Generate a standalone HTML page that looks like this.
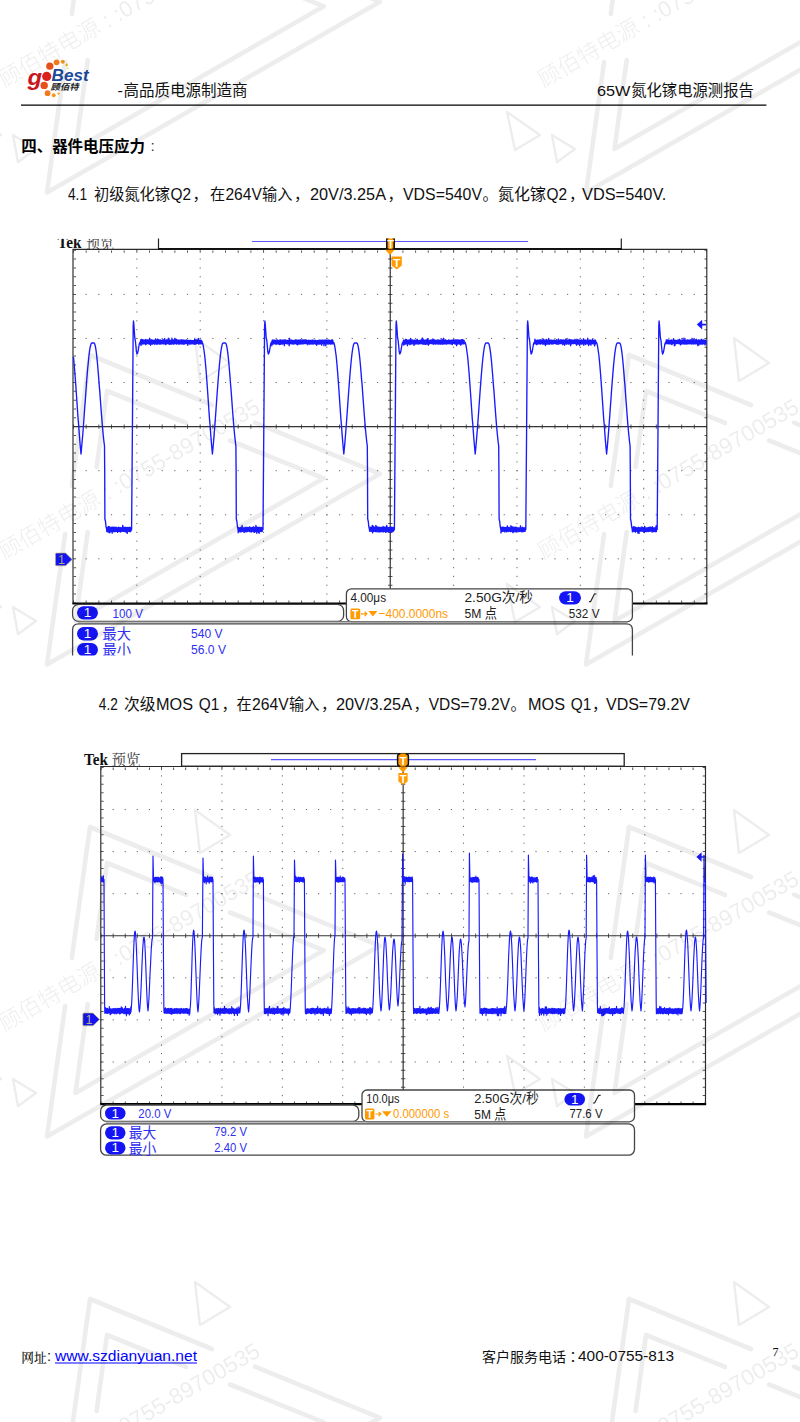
<!DOCTYPE html>
<html lang="zh-CN">
<head>
<meta charset="utf-8">
<title>65W氮化镓电源测报告 - 器件电压应力</title>
<style>
html,body{margin:0;padding:0;background:#fff}
body{width:800px;height:1422px;position:relative;overflow:hidden}
svg{position:absolute;left:0;top:0;display:block}
</style>
</head>
<body>
<svg width="800" height="1422" viewBox="0 0 800 1422" font-family='"Liberation Sans","Noto Sans CJK SC",sans-serif'>
<g id="logo">
<circle cx="46.7" cy="76.4" r="4.6" fill="#d9231c"/><circle cx="49.8" cy="66.2" r="3.6" fill="#e8501a"/><circle cx="56.6" cy="62.3" r="2.9" fill="#f07a1c"/><circle cx="62.7" cy="61.7" r="2.0" fill="#f59a1e"/><circle cx="66.7" cy="64.9" r="1.3" fill="#f7b52a"/><circle cx="67.8" cy="68.3" r="0.8" fill="#f7c23a"/><circle cx="44.2" cy="85.4" r="3.7" fill="#e8501a"/><circle cx="47.6" cy="93.2" r="2.9" fill="#f07a1c"/><circle cx="53.7" cy="95.3" r="2.0" fill="#f59a1e"/><circle cx="58.5" cy="93.6" r="1.2" fill="#f7b52a"/><text x="27.6" y="84.6" font-size="22.5" font-weight="bold" font-style="italic" fill="#c8161d" textLength="14.5" lengthAdjust="spacingAndGlyphs">g</text><text x="51.6" y="81.4" font-size="17.4" font-weight="bold" font-style="italic" fill="#1b4a9c" textLength="37" lengthAdjust="spacingAndGlyphs">Best</text><text x="50.6" y="90.2" font-size="8.6" font-weight="bold" font-style="italic" fill="#1a1a1a" textLength="28" lengthAdjust="spacingAndGlyphs">顾佰特</text>
</g>
<g id="doc-text">
<text x="117.6" y="95.6" font-size="15.5" fill="#111" textLength="5.4" lengthAdjust="spacingAndGlyphs">-</text>
<text x="123.6" y="95.6" font-size="15.5" fill="#111" textLength="124.0" lengthAdjust="spacingAndGlyphs">高品质电源制造商</text>
<text x="597.0" y="95.6" font-size="15.5" fill="#111" textLength="33.4" lengthAdjust="spacingAndGlyphs">65W</text>
<text x="631.2" y="95.6" font-size="15.5" fill="#111" textLength="122.6" lengthAdjust="spacingAndGlyphs">氮化镓电源测报告</text>
<line x1="21" y1="105.1" x2="766.4" y2="105.1" stroke="#000" stroke-width="1.3"/>
<text x="21.2" y="152.0" font-size="15.5" fill="#000" textLength="123.8" lengthAdjust="spacingAndGlyphs" font-weight="bold">四、器件电压应力</text>
<text x="150.4" y="151.4" font-size="15.5" fill="#333">:</text>
<text x="68.0" y="200.2" font-size="16.2" fill="#111" textLength="19.0" lengthAdjust="spacingAndGlyphs">4.1</text>
<text x="94.0" y="200.0" font-size="15.4" fill="#111" textLength="76.0" lengthAdjust="spacingAndGlyphs">初级氮化镓</text>
<text x="170.4" y="200.2" font-size="16.2" fill="#111" textLength="20.6" lengthAdjust="spacingAndGlyphs">Q2</text>
<text x="192.6" y="200.0" font-size="15.4" fill="#111">，</text>
<text x="210.0" y="200.0" font-size="15.4" fill="#111" textLength="15.2" lengthAdjust="spacingAndGlyphs">在</text>
<text x="225.4" y="200.2" font-size="16.2" fill="#111" textLength="36.4" lengthAdjust="spacingAndGlyphs">264V</text>
<text x="262.0" y="200.0" font-size="15.4" fill="#111" textLength="30.4" lengthAdjust="spacingAndGlyphs">输入</text>
<text x="294.0" y="200.0" font-size="15.4" fill="#111">，</text>
<text x="310.0" y="200.2" font-size="16.2" fill="#111" textLength="76.0" lengthAdjust="spacingAndGlyphs">20V/3.25A</text>
<text x="387.6" y="200.0" font-size="15.4" fill="#111">，</text>
<text x="403.0" y="200.2" font-size="16.2" fill="#111" textLength="79.0" lengthAdjust="spacingAndGlyphs">VDS=540V</text>
<text x="482.6" y="200.0" font-size="15.4" fill="#111">。</text>
<text x="498.0" y="200.0" font-size="15.4" fill="#111" textLength="48.0" lengthAdjust="spacingAndGlyphs">氮化镓</text>
<text x="546.4" y="200.2" font-size="16.2" fill="#111" textLength="20.6" lengthAdjust="spacingAndGlyphs">Q2</text>
<text x="569.0" y="200.0" font-size="15.4" fill="#111">，</text>
<text x="582.0" y="200.2" font-size="16.2" fill="#111" textLength="84.4" lengthAdjust="spacingAndGlyphs">VDS=540V.</text>
<text x="98.8" y="709.8" font-size="16.2" fill="#111" textLength="19.0" lengthAdjust="spacingAndGlyphs">4.2</text>
<text x="124.0" y="709.6" font-size="15.4" fill="#111" textLength="31.6" lengthAdjust="spacingAndGlyphs">次级</text>
<text x="156.0" y="709.8" font-size="16.2" fill="#111" textLength="37.0" lengthAdjust="spacingAndGlyphs">MOS</text>
<text x="198.8" y="709.8" font-size="16.2" fill="#111" textLength="20.6" lengthAdjust="spacingAndGlyphs">Q1</text>
<text x="221.4" y="709.6" font-size="15.4" fill="#111">，</text>
<text x="236.4" y="709.6" font-size="15.4" fill="#111" textLength="15.2" lengthAdjust="spacingAndGlyphs">在</text>
<text x="252.0" y="709.8" font-size="16.2" fill="#111" textLength="36.6" lengthAdjust="spacingAndGlyphs">264V</text>
<text x="289.0" y="709.6" font-size="15.4" fill="#111" textLength="30.4" lengthAdjust="spacingAndGlyphs">输入</text>
<text x="321.0" y="709.6" font-size="15.4" fill="#111">，</text>
<text x="336.0" y="709.8" font-size="16.2" fill="#111" textLength="76.0" lengthAdjust="spacingAndGlyphs">20V/3.25A</text>
<text x="413.4" y="709.6" font-size="15.4" fill="#111">，</text>
<text x="428.8" y="709.8" font-size="16.2" fill="#111" textLength="81.2" lengthAdjust="spacingAndGlyphs">VDS=79.2V</text>
<text x="510.6" y="709.6" font-size="15.4" fill="#111">。</text>
<text x="528.0" y="709.8" font-size="16.2" fill="#111" textLength="37.0" lengthAdjust="spacingAndGlyphs">MOS</text>
<text x="570.8" y="709.8" font-size="16.2" fill="#111" textLength="20.6" lengthAdjust="spacingAndGlyphs">Q1</text>
<text x="592.0" y="709.6" font-size="15.4" fill="#111">，</text>
<text x="606.0" y="709.8" font-size="16.2" fill="#111" textLength="84.0" lengthAdjust="spacingAndGlyphs">VDS=79.2V</text>
<text x="21.2" y="1361.6" font-size="12.8" fill="#111" textLength="25.4" lengthAdjust="spacingAndGlyphs" font-family='"Noto Serif CJK SC","Noto Sans CJK SC",serif' font-weight="500">网址</text>
<text x="47.0" y="1361.4" font-size="14.5" fill="#111">:</text>
<text x="55.0" y="1361.3" font-size="15.5" fill="#0000ff" textLength="142.0" lengthAdjust="spacingAndGlyphs">www.szdianyuan.net</text>
<line x1="55" y1="1363" x2="197" y2="1363" stroke="#0000ff" stroke-width="1.1"/>
<text x="482.0" y="1361.6" font-size="14.0" fill="#111" textLength="84.0" lengthAdjust="spacingAndGlyphs">客户服务电话</text>
<text x="569.6" y="1361.2" font-size="14.0" fill="#111">：</text>
<text x="578.0" y="1361.3" font-size="15.5" fill="#111" textLength="96.0" lengthAdjust="spacingAndGlyphs">400-0755-813</text>
<text x="772.6" y="1355.8" font-size="12.0" fill="#111" font-family='"Liberation Serif",serif'>7</text>
</g>
<g id="scope1" font-size="12.5">
<clipPath id="cs1"><rect x="40" y="238.6" width="700" height="416.8"/></clipPath><g clip-path="url(#cs1)"><g stroke="#666" stroke-width="1" fill="none"><line x1="136.85" y1="249.70" x2="136.85" y2="602.90" stroke-dasharray="1.2 7.615"/><line x1="200.20" y1="249.70" x2="200.20" y2="602.90" stroke-dasharray="1.2 7.615"/><line x1="263.55" y1="249.70" x2="263.55" y2="602.90" stroke-dasharray="1.2 7.615"/><line x1="326.90" y1="249.70" x2="326.90" y2="602.90" stroke-dasharray="1.2 7.615"/><line x1="453.60" y1="249.70" x2="453.60" y2="602.90" stroke-dasharray="1.2 7.615"/><line x1="516.95" y1="249.70" x2="516.95" y2="602.90" stroke-dasharray="1.2 7.615"/><line x1="580.30" y1="249.70" x2="580.30" y2="602.90" stroke-dasharray="1.2 7.615"/><line x1="643.65" y1="249.70" x2="643.65" y2="602.90" stroke-dasharray="1.2 7.615"/><line x1="72.90" y1="294.38" x2="707.00" y2="294.38" stroke-dasharray="1.2 11.470"/><line x1="72.90" y1="338.45" x2="707.00" y2="338.45" stroke-dasharray="1.2 11.470"/><line x1="72.90" y1="382.52" x2="707.00" y2="382.52" stroke-dasharray="1.2 11.470"/><line x1="72.90" y1="470.67" x2="707.00" y2="470.67" stroke-dasharray="1.2 11.470"/><line x1="72.90" y1="514.75" x2="707.00" y2="514.75" stroke-dasharray="1.2 11.470"/><line x1="72.90" y1="558.83" x2="707.00" y2="558.83" stroke-dasharray="1.2 11.470"/></g><g stroke="#555" fill="none"><line x1="74.80" y1="249.80" x2="74.80" y2="602.90" stroke-width="2.4" stroke-dasharray="1 7.815"/><line x1="705.70" y1="249.80" x2="705.70" y2="602.90" stroke-width="2.4" stroke-dasharray="1 7.815"/><line x1="73.00" y1="251.60" x2="707.00" y2="251.60" stroke-width="2.4" stroke-dasharray="1 11.670"/><line x1="73.00" y1="601.60" x2="707.00" y2="601.60" stroke-width="2.4" stroke-dasharray="1 11.670"/><line x1="390.25" y1="249.80" x2="390.25" y2="602.90" stroke-width="4.4" stroke-dasharray="1 7.815"/><line x1="73.00" y1="426.60" x2="707.00" y2="426.60" stroke-width="4.4" stroke-dasharray="1 11.670"/></g><g stroke="#333" stroke-width="1.2"><line x1="390.25" y1="250.30" x2="390.25" y2="602.90"/><line x1="73.50" y1="426.60" x2="707.00" y2="426.60"/></g><path d="M73.00 603.50 V249.30 H706.80 V603.50" fill="none" stroke="#2a2a2a" stroke-width="1.15"/><line x1="72.40" y1="603.50" x2="707.50" y2="603.50" stroke="#000" stroke-width="2.2"/>
<path d="M158.5 238 V249 M621.3 238 V249" stroke="#222" stroke-width="1.2" fill="none"/>
<line x1="158" y1="248.8" x2="622" y2="248.8" stroke="#111" stroke-width="1.8"/>
<line x1="252" y1="241.5" x2="528" y2="241.5" stroke="#5a5aff" stroke-width="1.2"/>
<rect x="386.4" y="238" width="8.2" height="11" fill="#ff9a00"/>
<path d="M388.6 238 H386.8 V249 H388.6 M392.4 238 H394.2 V249 H392.4" stroke="#111" stroke-width="1.6" fill="none"/>
<text x="390.5" y="248" font-size="11" font-weight="bold" fill="#fff" text-anchor="middle">T</text>
<path d="M385.2 249.8 H394.8 L390 255 Z" fill="#ff9a00"/>
<path d="M391.6 256.4 H401.8 V265.6 L396.7 269.4 L391.6 265.6 Z" fill="#ff9a00"/>
<text x="396.7" y="266.6" font-size="11.5" font-weight="bold" fill="#fff" text-anchor="middle">T</text>
<polyline fill="none" stroke="#1a1aff" stroke-width="1.35" stroke-linejoin="round" points="73.4,356.9 73.7,359.4 74.1,363.7 74.5,368.4 74.9,373.3 75.3,378.6 75.7,384.1 76.1,389.7 76.5,395.5 76.9,401.4 77.3,407.2 77.7,413.1 78.1,418.9 78.6,424.5 79.0,430.0 79.4,435.4 79.8,440.4 80.2,445.2 80.6,449.8 81.0,454.0 81.4,449.8 81.8,445.3 82.2,440.6 82.7,435.5 83.1,430.3 83.5,424.8 83.9,419.2 84.3,413.5 84.7,407.7 85.2,401.8 85.6,396.0 86.0,390.3 86.4,384.7 86.8,379.3 87.2,374.1 87.6,369.1 88.1,364.5 88.5,360.2 88.9,356.3 89.3,352.9 89.7,349.9 90.1,347.5 90.6,345.5 91.0,344.1 91.4,343.3 91.8,343.0 94.0,343.0 94.4,343.3 94.8,344.2 95.2,345.6 95.6,347.6 96.0,350.1 96.4,353.1 96.8,356.6 97.2,360.5 97.6,364.8 98.0,369.5 98.4,374.4 98.8,379.6 99.2,384.9 99.7,390.4 100.1,395.9 100.5,401.4 100.9,406.9 101.3,412.2 101.7,417.4 102.1,422.4 102.5,427.2 102.9,431.7 103.3,435.8 103.7,439.6 104.1,443.0 104.5,446.0 104.7,470.0 104.9,519.0 105.5,521.5 106.0,526.5 106.6,529.0 106.8,531.4 107.1,527.7 107.4,531.8 107.7,527.6 108.0,531.8 108.3,526.4 108.6,531.3 108.9,527.6 109.2,532.8 109.5,526.6 109.8,532.6 110.1,528.1 110.4,531.1 110.7,527.6 111.0,531.5 111.3,527.2 111.6,531.2 111.9,528.0 112.2,533.1 112.5,527.3 112.8,531.5 113.1,527.3 113.4,531.4 113.7,527.3 114.0,531.7 114.3,527.2 114.6,531.6 114.9,528.1 115.2,531.3 115.5,527.3 115.8,531.5 116.1,527.4 116.4,530.9 116.7,527.4 117.0,531.4 117.3,528.0 117.6,532.4 117.9,527.8 118.2,531.1 118.5,527.1 118.8,531.3 119.1,527.4 119.4,531.5 119.7,528.0 120.0,531.1 120.3,527.8 120.6,532.0 120.9,527.8 121.2,531.6 121.5,527.8 121.8,531.4 122.1,528.0 122.4,531.1 122.7,525.4 123.0,531.3 123.3,527.2 123.6,531.2 123.9,527.2 124.2,531.5 124.5,527.6 124.8,531.0 125.1,527.6 125.4,531.6 125.7,527.2 126.0,532.0 126.3,527.6 126.6,531.2 126.9,527.8 127.2,533.4 127.5,527.4 127.8,531.0 128.1,527.4 128.4,531.2 128.7,527.7 129.0,531.5 129.3,527.7 129.6,530.9 129.9,527.3 130.2,531.8 130.5,527.8 130.8,531.1 131.1,527.2 131.3,530.4 131.6,529.5 132.4,430.0 133.2,326.0 133.5,321.0 133.9,325.0 134.8,338.0 135.3,340.3 135.9,346.0 136.4,351.7 137.0,354.0 137.5,353.2 138.1,351.0 138.6,348.0 139.1,345.0 139.7,342.8 140.2,342.0 140.4,343.9 140.7,339.8 141.0,345.4 141.3,340.0 141.6,344.0 141.9,339.3 142.2,344.1 142.5,340.3 142.8,343.6 143.1,339.8 143.4,343.9 143.7,340.2 144.0,343.5 144.3,340.5 144.6,343.8 144.9,339.9 145.2,343.7 145.5,339.4 145.8,344.8 146.1,340.5 146.4,343.8 146.7,340.0 147.0,343.7 147.3,340.4 147.6,343.4 147.9,339.8 148.2,343.8 148.5,339.9 148.8,343.5 149.1,340.3 149.4,344.2 149.7,338.3 150.0,343.3 150.3,339.9 150.6,345.2 150.9,340.3 151.2,344.1 151.5,339.8 151.8,343.4 152.1,340.2 152.4,344.2 152.7,340.1 153.0,343.7 153.3,340.7 153.6,343.5 153.9,340.1 154.2,343.4 154.5,340.1 154.8,344.5 155.1,340.2 155.4,343.7 155.7,338.8 156.0,343.6 156.3,339.8 156.6,344.1 156.9,340.5 157.2,344.2 157.5,339.2 157.8,343.8 158.1,340.3 158.4,343.9 158.7,339.4 159.0,343.6 159.3,340.1 159.6,344.0 159.9,340.2 160.2,344.2 160.5,340.0 160.8,343.5 161.1,340.4 161.4,343.8 161.7,340.5 162.0,343.9 162.3,340.6 162.6,343.5 162.9,339.5 163.2,343.4 163.5,339.9 163.8,344.0 164.1,339.9 164.4,343.5 164.7,338.5 165.0,343.9 165.3,340.4 165.6,344.5 165.9,340.4 166.2,344.2 166.5,339.8 166.8,343.6 167.1,340.0 167.4,343.3 167.7,340.4 168.0,343.5 168.3,338.3 168.6,343.7 168.9,338.5 169.2,344.3 169.5,339.9 169.8,344.0 170.1,340.4 170.4,344.2 170.7,340.5 171.0,343.6 171.3,340.7 171.6,344.1 171.9,338.2 172.2,343.5 172.5,339.8 172.8,343.7 173.1,340.3 173.4,344.1 173.7,340.0 174.0,344.0 174.3,340.1 174.6,343.6 174.9,338.5 175.2,343.5 175.5,339.3 175.8,343.3 176.1,340.4 176.4,344.1 176.7,339.3 177.0,343.4 177.3,340.1 177.6,343.5 177.9,340.1 178.2,344.0 178.5,340.1 178.8,344.1 179.1,340.2 179.4,344.0 179.7,340.5 180.0,343.4 180.3,340.2 180.6,343.7 180.9,340.2 181.2,344.0 181.5,339.8 181.8,343.7 182.1,339.9 182.4,343.3 182.7,340.6 183.0,344.2 183.3,339.9 183.6,344.1 183.9,340.5 184.2,344.2 184.5,340.2 184.8,343.5 185.1,340.6 185.4,343.5 185.7,340.1 186.0,343.3 186.3,340.1 186.6,343.6 186.9,340.0 187.2,343.4 187.5,340.3 187.8,345.3 188.1,340.6 188.4,343.7 188.7,340.4 189.0,343.6 189.3,340.4 189.6,344.1 189.9,340.4 190.2,344.0 190.5,340.7 190.8,343.7 191.1,340.3 191.4,343.7 191.7,340.7 192.0,343.9 192.3,340.6 192.6,343.6 192.9,340.6 193.2,343.8 193.5,340.6 193.8,344.0 194.1,340.5 194.4,344.2 194.7,339.0 195.0,344.1 195.3,339.9 195.6,344.1 195.9,340.0 196.2,343.7 196.5,339.9 196.8,343.5 197.1,340.2 197.4,343.4 197.7,340.0 198.0,343.3 198.3,338.5 198.6,344.1 198.9,340.2 199.2,343.9 199.5,340.3 199.8,343.7 200.1,340.3 200.4,343.3 200.7,340.3 201.0,344.0 201.3,340.3 201.6,343.7 201.8,341.0 202.2,342.3 202.6,343.1 203.0,344.6 203.4,346.5 203.8,349.0 204.2,352.0 204.7,355.5 205.1,359.4 205.5,363.7 205.9,368.4 206.3,373.3 206.7,378.6 207.1,384.1 207.5,389.7 207.9,395.5 208.3,401.4 208.7,407.2 209.1,413.1 209.5,418.9 210.0,424.5 210.4,430.0 210.8,435.4 211.2,440.4 211.6,445.2 212.0,449.8 212.4,454.0 212.8,450.0 213.2,445.7 213.6,441.1 214.0,436.3 214.4,431.2 214.8,426.0 215.2,420.7 215.6,415.2 216.0,409.6 216.4,404.0 216.8,398.4 217.2,392.8 217.6,387.4 218.0,382.1 218.4,376.9 218.8,372.0 219.2,367.4 219.6,363.0 220.0,359.0 220.4,355.4 220.8,352.2 221.2,349.5 221.6,347.2 222.0,345.4 222.4,344.0 222.8,343.3 223.2,343.0 225.4,343.0 225.8,343.3 226.2,344.2 226.6,345.6 227.0,347.6 227.4,350.1 227.8,353.1 228.2,356.6 228.6,360.5 229.0,364.8 229.4,369.5 229.8,374.4 230.2,379.6 230.6,384.9 231.1,390.4 231.5,395.9 231.9,401.4 232.3,406.9 232.7,412.2 233.1,417.4 233.5,422.4 233.9,427.2 234.3,431.7 234.7,435.8 235.1,439.6 235.5,443.0 235.9,446.0 236.1,470.0 236.3,519.0 236.9,521.5 237.4,526.5 238.0,529.0 238.2,532.7 238.5,527.7 238.8,530.9 239.1,528.0 239.4,531.7 239.7,528.0 240.0,531.3 240.3,528.0 240.6,531.9 240.9,527.3 241.2,531.9 241.5,527.2 241.8,531.1 242.1,525.5 242.4,531.2 242.7,527.9 243.0,531.2 243.3,528.0 243.6,531.8 243.9,527.8 244.2,532.5 244.5,527.9 244.8,531.8 245.1,527.2 245.4,531.7 245.7,527.6 246.0,531.3 246.3,527.6 246.6,531.8 246.9,527.1 247.2,531.3 247.5,527.8 247.8,531.5 248.1,527.4 248.4,531.1 248.7,528.1 249.0,531.1 249.3,527.1 249.6,531.6 249.9,527.0 250.2,531.0 250.5,527.7 250.8,531.8 251.1,527.9 251.4,532.0 251.7,527.8 252.0,531.3 252.3,527.5 252.6,531.1 252.9,527.6 253.2,531.8 253.5,526.8 253.8,531.5 254.1,527.3 254.4,532.4 254.7,527.5 255.0,531.2 255.3,527.7 255.6,531.6 255.9,525.5 256.2,531.4 256.5,526.6 256.8,533.3 257.1,527.6 257.4,531.0 257.7,527.5 258.0,531.5 258.3,527.9 258.6,532.5 258.9,527.2 259.2,533.2 259.5,527.3 259.8,531.4 260.1,527.7 260.4,531.0 260.7,528.1 261.0,531.6 261.3,527.3 261.6,531.2 261.9,527.7 262.2,531.4 262.5,527.5 262.7,528.7 263.0,529.5 263.8,430.0 264.6,326.0 264.9,321.0 265.3,325.0 266.2,338.0 266.8,340.3 267.3,346.0 267.8,351.7 268.4,354.0 268.9,353.2 269.5,351.0 270.0,348.0 270.5,345.0 271.1,342.8 271.6,342.0 271.8,345.7 272.1,340.5 272.4,344.0 272.7,340.0 273.0,344.1 273.3,340.5 273.6,343.9 273.9,340.1 274.2,343.7 274.5,340.1 274.8,343.7 275.1,340.2 275.4,343.5 275.7,340.6 276.0,344.5 276.3,340.6 276.6,343.6 276.9,339.7 277.2,343.9 277.5,340.1 277.8,343.4 278.1,340.4 278.4,344.0 278.7,340.6 279.0,344.1 279.3,340.6 279.6,344.5 279.9,339.9 280.2,343.9 280.5,340.1 280.8,344.4 281.1,340.0 281.4,343.6 281.7,340.7 282.0,343.6 282.3,340.4 282.6,344.2 282.9,339.9 283.2,343.3 283.5,340.3 283.8,343.6 284.1,340.2 284.4,345.6 284.7,340.0 285.0,343.3 285.3,340.0 285.6,343.3 285.9,340.3 286.2,343.5 286.5,340.4 286.8,343.5 287.1,340.4 287.4,343.9 287.7,340.6 288.0,343.4 288.3,340.1 288.6,343.9 288.9,340.3 289.2,345.7 289.5,338.3 289.8,343.5 290.1,339.9 290.4,343.6 290.7,340.5 291.0,343.8 291.3,340.0 291.6,343.6 291.9,340.6 292.2,343.9 292.5,340.5 292.8,344.0 293.1,340.6 293.4,344.1 293.7,340.5 294.0,343.9 294.3,340.6 294.6,343.5 294.9,340.2 295.2,343.6 295.5,339.8 295.8,343.4 296.1,340.6 296.4,344.2 296.7,340.0 297.0,343.5 297.3,340.6 297.6,344.9 297.9,340.3 298.2,343.9 298.5,340.1 298.8,343.4 299.1,340.3 299.4,344.1 299.7,340.2 300.0,343.7 300.3,340.0 300.6,344.0 300.9,339.9 301.2,343.9 301.5,340.4 301.8,343.4 302.1,340.0 302.4,343.9 302.7,340.3 303.0,343.9 303.3,340.1 303.6,343.5 303.9,340.0 304.2,343.7 304.5,340.7 304.8,343.4 305.1,339.8 305.4,343.4 305.7,340.2 306.0,343.8 306.3,339.9 306.6,343.7 306.9,340.5 307.2,343.7 307.5,340.6 307.8,344.8 308.1,340.5 308.4,343.3 308.7,340.3 309.0,343.6 309.3,340.5 309.6,344.2 309.9,340.5 310.2,343.7 310.5,340.6 310.8,344.0 311.1,340.3 311.4,343.5 311.7,340.4 312.0,344.0 312.3,340.3 312.6,343.8 312.9,339.9 313.2,344.1 313.5,340.4 313.8,343.7 314.1,340.7 314.4,343.6 314.7,340.4 315.0,343.7 315.3,340.1 315.6,344.1 315.9,340.6 316.2,344.1 316.5,340.6 316.8,345.3 317.1,340.7 317.4,343.9 317.7,340.6 318.0,343.5 318.3,340.4 318.6,344.1 318.9,340.5 319.2,343.9 319.5,340.1 319.8,344.0 320.1,340.5 320.4,343.8 320.7,340.3 321.0,343.8 321.3,340.5 321.6,345.1 321.9,340.3 322.2,343.7 322.5,340.2 322.8,343.3 323.1,340.3 323.4,343.9 323.7,340.4 324.0,345.8 324.3,340.1 324.6,343.3 324.9,340.1 325.2,343.6 325.5,340.2 325.8,345.7 326.1,340.0 326.4,343.6 326.7,340.4 327.0,343.8 327.3,340.5 327.6,343.7 327.9,339.9 328.2,344.1 328.5,340.2 328.8,343.8 329.1,340.1 329.4,343.6 329.7,340.4 330.0,343.9 330.3,340.7 330.6,344.1 330.9,340.7 331.2,343.3 331.5,339.9 331.8,343.9 332.1,339.9 332.4,343.9 332.7,340.1 333.0,343.9 333.2,342.4 333.6,342.3 334.0,343.1 334.4,344.6 334.8,346.5 335.2,349.0 335.6,352.0 336.1,355.5 336.5,359.4 336.9,363.7 337.3,368.4 337.7,373.3 338.1,378.6 338.5,384.1 338.9,389.7 339.3,395.5 339.7,401.4 340.1,407.2 340.5,413.1 340.9,418.9 341.4,424.5 341.8,430.0 342.2,435.4 342.6,440.4 343.0,445.2 343.4,449.8 343.8,454.0 344.2,450.0 344.6,445.7 345.0,441.1 345.4,436.3 345.8,431.2 346.2,426.0 346.6,420.7 347.0,415.2 347.4,409.6 347.8,404.0 348.2,398.4 348.6,392.8 349.0,387.4 349.4,382.1 349.8,376.9 350.2,372.0 350.6,367.4 351.0,363.0 351.4,359.0 351.8,355.4 352.2,352.2 352.6,349.5 353.0,347.2 353.4,345.4 353.8,344.0 354.2,343.3 354.6,343.0 356.8,343.0 357.2,343.3 357.6,344.2 358.0,345.6 358.4,347.6 358.8,350.1 359.2,353.1 359.6,356.6 360.0,360.5 360.4,364.8 360.8,369.5 361.2,374.4 361.6,379.6 362.1,384.9 362.5,390.4 362.9,395.9 363.3,401.4 363.7,406.9 364.1,412.2 364.5,417.4 364.9,422.4 365.3,427.2 365.7,431.7 366.1,435.8 366.5,439.6 366.9,443.0 367.3,446.0 367.5,470.0 367.7,519.0 368.3,521.5 368.8,526.5 369.4,529.0 369.6,531.3 369.9,528.0 370.2,530.9 370.5,527.2 370.8,531.3 371.1,527.3 371.4,531.2 371.7,527.7 372.0,531.3 372.3,525.4 372.6,532.9 372.9,528.0 373.2,531.5 373.5,526.3 373.8,531.3 374.1,527.2 374.4,531.4 374.7,528.0 375.0,531.1 375.3,527.0 375.6,531.6 375.9,525.4 376.2,531.8 376.5,528.1 376.8,531.1 377.1,526.7 377.4,531.7 377.7,527.3 378.0,531.0 378.3,527.4 378.6,531.8 378.9,527.2 379.2,532.0 379.5,527.5 379.8,531.0 380.1,527.4 380.4,531.7 380.7,528.0 381.0,531.5 381.3,527.4 381.6,531.7 381.9,527.5 382.2,531.3 382.5,527.3 382.8,531.7 383.1,526.5 383.4,531.9 383.7,527.3 384.0,531.5 384.3,527.3 384.6,531.2 384.9,527.2 385.2,531.6 385.5,527.2 385.8,532.4 386.1,527.8 386.4,531.5 386.7,525.5 387.0,531.7 387.3,527.3 387.6,531.2 387.9,527.3 388.2,531.8 388.5,528.0 388.8,531.7 389.1,527.4 389.4,531.1 389.7,527.4 390.0,531.1 390.3,527.4 390.6,532.7 390.9,527.3 391.2,531.1 391.5,527.2 391.8,531.4 392.1,527.5 392.4,531.1 392.7,527.4 393.0,531.5 393.3,527.6 393.6,530.9 393.9,527.7 394.1,529.9 394.4,529.5 395.2,430.0 396.0,326.0 396.3,321.0 396.7,325.0 397.6,338.0 398.1,340.3 398.7,346.0 399.2,351.7 399.8,354.0 400.3,353.2 400.9,351.0 401.4,348.0 401.9,345.0 402.5,342.8 403.0,342.0 403.2,344.0 403.5,340.2 403.8,345.1 404.1,340.7 404.4,344.1 404.7,340.2 405.0,344.0 405.3,339.8 405.6,344.0 405.9,339.3 406.2,343.5 406.5,339.6 406.8,343.8 407.1,340.3 407.4,345.7 407.7,340.2 408.0,343.4 408.3,340.5 408.6,343.9 408.9,340.1 409.2,343.7 409.5,339.8 409.8,344.6 410.1,340.5 410.4,344.1 410.7,338.4 411.0,344.0 411.3,340.1 411.6,343.4 411.9,340.0 412.2,343.9 412.5,340.2 412.8,343.4 413.1,340.5 413.4,343.7 413.7,340.5 414.0,345.4 414.3,340.0 414.6,343.3 414.9,340.5 415.2,344.1 415.5,340.6 415.8,343.4 416.1,339.9 416.4,343.7 416.7,340.0 417.0,343.9 417.3,339.4 417.6,343.9 417.9,340.6 418.2,343.5 418.5,340.6 418.8,344.1 419.1,340.5 419.4,343.6 419.7,340.6 420.0,343.4 420.3,340.1 420.6,343.7 420.9,340.5 421.2,343.6 421.5,339.8 421.8,343.4 422.1,338.3 422.4,344.0 422.7,338.2 423.0,344.0 423.3,339.5 423.6,344.1 423.9,340.5 424.2,344.1 424.5,340.2 424.8,343.5 425.1,340.1 425.4,344.4 425.7,340.1 426.0,343.5 426.3,340.1 426.6,344.0 426.9,339.4 427.2,344.0 427.5,338.6 427.8,344.0 428.1,339.9 428.4,345.1 428.7,339.9 429.0,344.1 429.3,340.5 429.6,343.6 429.9,340.4 430.2,343.3 430.5,340.3 430.8,343.4 431.1,340.0 431.4,343.6 431.7,340.4 432.0,343.4 432.3,339.8 432.6,343.8 432.9,338.9 433.2,344.2 433.5,340.5 433.8,343.5 434.1,339.7 434.4,343.9 434.7,340.7 435.0,343.8 435.3,340.1 435.6,344.1 435.9,340.7 436.2,343.7 436.5,340.4 436.8,343.7 437.1,340.2 437.4,343.4 437.7,340.0 438.0,344.1 438.3,340.3 438.6,344.1 438.9,340.3 439.2,344.0 439.5,340.5 439.8,343.7 440.1,340.0 440.4,344.0 440.7,340.7 441.0,344.2 441.3,340.5 441.6,343.9 441.9,338.9 442.2,343.7 442.5,340.7 442.8,344.2 443.1,339.8 443.4,344.0 443.7,338.3 444.0,343.9 444.3,340.1 444.6,343.8 444.9,340.1 445.2,343.8 445.5,339.8 445.8,343.6 446.1,340.6 446.4,344.2 446.7,340.5 447.0,343.8 447.3,340.6 447.6,343.6 447.9,340.4 448.2,343.4 448.5,339.9 448.8,343.8 449.1,340.5 449.4,343.7 449.7,340.1 450.0,343.6 450.3,340.5 450.6,343.6 450.9,340.7 451.2,344.1 451.5,340.2 451.8,343.6 452.1,340.4 452.4,344.5 452.7,339.9 453.0,343.4 453.3,340.3 453.6,343.4 453.9,339.8 454.2,343.4 454.5,340.4 454.8,343.9 455.1,340.0 455.4,344.0 455.7,340.0 456.0,344.0 456.3,339.9 456.6,345.7 456.9,340.0 457.2,343.8 457.5,340.2 457.8,344.0 458.1,340.1 458.4,343.7 458.7,340.0 459.0,343.7 459.3,340.4 459.6,344.0 459.9,340.2 460.2,343.5 460.5,340.6 460.8,345.2 461.1,339.9 461.4,344.1 461.7,339.8 462.0,343.7 462.3,339.7 462.6,343.8 462.9,339.9 463.2,343.8 463.5,340.2 463.8,343.9 464.1,340.4 464.4,343.6 464.6,342.5 465.0,342.3 465.4,343.1 465.8,344.6 466.2,346.5 466.6,349.0 467.0,352.0 467.5,355.5 467.9,359.4 468.3,363.7 468.7,368.4 469.1,373.3 469.5,378.6 469.9,384.1 470.3,389.7 470.7,395.5 471.1,401.4 471.5,407.2 471.9,413.1 472.3,418.9 472.8,424.5 473.2,430.0 473.6,435.4 474.0,440.4 474.4,445.2 474.8,449.8 475.2,454.0 475.6,450.0 476.0,445.7 476.4,441.1 476.8,436.3 477.2,431.2 477.6,426.0 478.0,420.7 478.4,415.2 478.8,409.6 479.2,404.0 479.6,398.4 480.0,392.8 480.4,387.4 480.8,382.1 481.2,376.9 481.6,372.0 482.0,367.4 482.4,363.0 482.8,359.0 483.2,355.4 483.6,352.2 484.0,349.5 484.4,347.2 484.8,345.4 485.2,344.0 485.6,343.3 486.0,343.0 488.2,343.0 488.6,343.3 489.0,344.2 489.4,345.6 489.8,347.6 490.2,350.1 490.6,353.1 491.0,356.6 491.4,360.5 491.8,364.8 492.2,369.5 492.6,374.4 493.0,379.6 493.4,384.9 493.9,390.4 494.3,395.9 494.7,401.4 495.1,406.9 495.5,412.2 495.9,417.4 496.3,422.4 496.7,427.2 497.1,431.7 497.5,435.8 497.9,439.6 498.3,443.0 498.7,446.0 498.9,470.0 499.1,519.0 499.7,521.5 500.2,526.5 500.8,529.0 501.0,532.9 501.3,527.7 501.6,531.5 501.9,527.2 502.2,531.4 502.5,527.5 502.8,531.2 503.1,527.3 503.4,531.2 503.7,527.3 504.0,531.0 504.3,527.4 504.6,531.9 504.9,527.7 505.2,531.2 505.5,527.6 505.8,531.1 506.1,527.5 506.4,531.9 506.7,528.1 507.0,531.7 507.3,525.9 507.6,531.2 507.9,527.5 508.2,531.1 508.5,527.6 508.8,531.5 509.1,527.1 509.4,531.3 509.7,527.9 510.0,531.0 510.3,527.9 510.6,531.7 510.9,525.7 511.2,530.9 511.5,527.8 511.8,531.2 512.1,526.6 512.4,531.8 512.7,527.8 513.0,532.6 513.3,527.2 513.6,531.8 513.9,527.5 514.2,530.9 514.5,527.3 514.8,531.8 515.1,527.8 515.4,531.8 515.7,527.2 516.0,531.3 516.3,527.9 516.6,531.8 516.9,527.3 517.2,531.1 517.5,527.9 517.8,531.2 518.1,528.0 518.4,531.3 518.7,528.0 519.0,531.7 519.3,527.9 519.6,531.2 519.9,528.1 520.2,531.2 520.5,525.8 520.8,531.2 521.1,528.0 521.4,531.7 521.7,527.9 522.0,531.6 522.3,527.2 522.6,531.8 522.9,527.9 523.2,531.0 523.5,527.8 523.8,531.5 524.1,527.9 524.4,531.1 524.7,528.0 525.0,531.4 525.3,527.3 525.5,529.9 525.8,529.5 526.6,430.0 527.4,326.0 527.7,321.0 528.1,325.0 529.0,338.0 529.6,340.3 530.1,346.0 530.7,351.7 531.2,354.0 531.7,353.2 532.3,351.0 532.8,348.0 533.3,345.0 533.9,342.8 534.4,342.0 534.6,343.8 534.9,339.1 535.2,343.5 535.5,340.4 535.8,343.4 536.1,340.4 536.4,344.7 536.7,340.4 537.0,343.4 537.3,340.4 537.6,344.1 537.9,339.9 538.2,343.4 538.5,340.7 538.8,343.9 539.1,340.3 539.4,343.9 539.7,339.9 540.0,343.9 540.3,340.6 540.6,344.0 540.9,339.7 541.2,343.4 541.5,340.4 541.8,343.3 542.1,340.1 542.4,344.1 542.7,340.0 543.0,343.7 543.3,339.2 543.6,344.1 543.9,339.3 544.2,344.1 544.5,340.7 544.8,343.4 545.1,340.5 545.4,345.5 545.7,340.1 546.0,344.0 546.3,339.3 546.6,344.2 546.9,339.9 547.2,344.0 547.5,340.1 547.8,343.3 548.1,340.3 548.4,344.1 548.7,338.5 549.0,343.9 549.3,340.5 549.6,344.2 549.9,340.2 550.2,343.4 550.5,340.3 550.8,343.6 551.1,340.1 551.4,343.5 551.7,340.2 552.0,344.2 552.3,340.4 552.6,343.4 552.9,340.4 553.2,343.8 553.5,340.5 553.8,343.8 554.1,340.0 554.4,343.4 554.7,340.4 555.0,343.4 555.3,340.5 555.6,343.7 555.9,340.4 556.2,343.6 556.5,339.6 556.8,344.2 557.1,340.6 557.4,344.2 557.7,340.6 558.0,343.7 558.3,338.9 558.6,344.1 558.9,340.1 559.2,343.9 559.5,340.5 559.8,343.3 560.1,339.9 560.4,343.5 560.7,339.9 561.0,343.5 561.3,339.9 561.6,343.6 561.9,339.9 562.2,343.6 562.5,340.4 562.8,344.7 563.1,340.2 563.4,344.0 563.7,339.9 564.0,343.7 564.3,340.6 564.6,345.2 564.9,340.1 565.2,343.7 565.5,339.6 565.8,343.7 566.1,338.6 566.4,344.1 566.7,340.0 567.0,343.6 567.3,340.2 567.6,343.6 567.9,340.1 568.2,344.1 568.5,340.4 568.8,343.8 569.1,339.4 569.4,343.6 569.7,339.8 570.0,344.1 570.3,339.8 570.6,345.6 570.9,340.1 571.2,343.6 571.5,339.8 571.8,343.9 572.1,340.4 572.4,343.3 572.7,340.1 573.0,343.4 573.3,340.4 573.6,343.7 573.9,340.2 574.2,343.4 574.5,339.9 574.8,343.4 575.1,339.3 575.4,343.8 575.7,340.3 576.0,343.5 576.3,340.6 576.6,345.2 576.9,339.1 577.2,343.7 577.5,340.2 577.8,344.0 578.1,339.8 578.4,343.4 578.7,340.3 579.0,344.2 579.3,340.0 579.6,345.5 579.9,340.5 580.2,343.3 580.5,340.5 580.8,343.9 581.1,339.9 581.4,344.1 581.7,339.9 582.0,343.5 582.3,340.4 582.6,343.9 582.9,340.6 583.2,344.0 583.5,338.6 583.8,345.2 584.1,340.2 584.4,343.4 584.7,340.1 585.0,343.5 585.3,339.9 585.6,344.5 585.9,340.6 586.2,343.5 586.5,340.4 586.8,343.6 587.1,339.9 587.4,343.9 587.7,338.2 588.0,343.6 588.3,340.2 588.6,345.5 588.9,340.5 589.2,343.9 589.5,340.3 589.8,344.1 590.1,339.9 590.4,343.4 590.7,340.5 591.0,345.2 591.3,340.5 591.6,343.7 591.9,340.3 592.2,343.3 592.5,339.2 592.8,343.7 593.1,340.7 593.4,343.9 593.7,340.5 594.0,343.5 594.3,340.2 594.6,345.9 594.9,340.2 595.2,344.1 595.5,340.1 595.8,343.6 596.0,342.8 596.4,342.3 596.8,343.1 597.2,344.6 597.6,346.5 598.0,349.0 598.4,352.0 598.9,355.5 599.3,359.4 599.7,363.7 600.1,368.4 600.5,373.3 600.9,378.6 601.3,384.1 601.7,389.7 602.1,395.5 602.5,401.4 602.9,407.2 603.3,413.1 603.7,418.9 604.2,424.5 604.6,430.0 605.0,435.4 605.4,440.4 605.8,445.2 606.2,449.8 606.6,454.0 607.0,450.0 607.4,445.7 607.8,441.1 608.2,436.3 608.6,431.2 609.0,426.0 609.4,420.7 609.8,415.2 610.2,409.6 610.6,404.0 611.0,398.4 611.4,392.8 611.8,387.4 612.2,382.1 612.6,376.9 613.0,372.0 613.4,367.4 613.8,363.0 614.2,359.0 614.6,355.4 615.0,352.2 615.4,349.5 615.8,347.2 616.2,345.4 616.6,344.0 617.0,343.3 617.4,343.0 619.6,343.0 620.0,343.3 620.4,344.2 620.8,345.6 621.2,347.6 621.6,350.1 622.0,353.1 622.4,356.6 622.8,360.5 623.2,364.8 623.6,369.5 624.0,374.4 624.4,379.6 624.9,384.9 625.3,390.4 625.7,395.9 626.1,401.4 626.5,406.9 626.9,412.2 627.3,417.4 627.7,422.4 628.1,427.2 628.5,431.7 628.9,435.8 629.3,439.6 629.7,443.0 630.1,446.0 630.3,470.0 630.5,519.0 631.1,521.5 631.6,526.5 632.2,529.0 632.4,531.8 632.7,527.4 633.0,531.6 633.3,527.6 633.6,531.2 633.9,526.4 634.2,531.2 634.5,527.1 634.8,531.3 635.1,527.9 635.4,532.2 635.7,527.2 636.0,531.3 636.3,527.8 636.6,531.0 636.9,527.8 637.2,531.4 637.5,527.8 637.8,533.0 638.1,527.9 638.4,531.9 638.7,527.3 639.0,533.4 639.3,527.6 639.6,531.2 639.9,528.1 640.2,531.2 640.5,527.9 640.8,531.1 641.1,527.3 641.4,531.1 641.7,527.2 642.0,531.0 642.3,527.2 642.6,531.0 642.9,527.6 643.2,531.5 643.5,527.9 643.8,531.6 644.1,527.7 644.4,532.5 644.7,526.3 645.0,531.5 645.3,527.6 645.6,531.2 645.9,528.1 646.2,531.5 646.5,528.0 646.8,531.6 647.1,528.0 647.4,531.0 647.7,528.0 648.0,531.3 648.3,527.5 648.6,531.5 648.9,527.8 649.2,531.2 649.5,527.4 649.8,531.2 650.1,527.1 650.4,531.2 650.7,527.2 651.0,530.9 651.3,527.5 651.6,531.3 651.9,527.9 652.2,532.1 652.5,526.8 652.8,531.4 653.1,527.9 653.4,531.3 653.7,527.9 654.0,531.8 654.3,528.1 654.6,531.1 654.9,527.6 655.2,531.2 655.5,527.6 655.8,531.8 656.1,525.8 656.4,531.5 656.7,525.6 656.9,529.7 657.2,529.5 658.0,430.0 658.8,326.0 659.1,321.0 659.5,325.0 660.4,338.0 661.0,340.3 661.5,346.0 662.1,351.7 662.6,354.0 663.1,353.2 663.7,351.0 664.2,348.0 664.7,345.0 665.3,342.8 665.8,342.0 666.0,343.7 666.3,339.8 666.6,343.5 666.9,340.5 667.2,343.5 667.5,340.0 667.8,343.6 668.1,340.5 668.4,343.4 668.7,339.9 669.0,344.0 669.3,340.4 669.6,343.7 669.9,340.6 670.2,343.8 670.5,340.2 670.8,343.5 671.1,340.4 671.4,344.1 671.7,339.9 672.0,344.7 672.3,340.6 672.6,343.3 672.9,340.6 673.2,343.4 673.5,338.6 673.8,343.6 674.1,340.0 674.4,345.8 674.7,340.5 675.0,345.4 675.3,340.2 675.6,343.7 675.9,340.7 676.2,343.6 676.5,340.6 676.8,343.4 677.1,340.5 677.4,343.4 677.7,340.2 678.0,343.6 678.3,339.9 678.6,343.5 678.9,339.9 679.2,343.5 679.5,339.3 679.8,343.3 680.1,340.3 680.4,344.9 680.7,340.1 681.0,343.8 681.3,340.1 681.6,344.1 681.9,340.3 682.2,343.7 682.5,340.3 682.8,343.7 683.1,338.1 683.4,343.9 683.7,340.5 684.0,343.6 684.3,340.5 684.6,344.1 684.9,338.3 685.2,343.9 685.5,340.1 685.8,343.6 686.1,340.7 686.4,344.1 686.7,340.2 687.0,343.5 687.3,340.0 687.6,343.9 687.9,340.2 688.2,343.9 688.5,340.1 688.8,343.5 689.1,340.5 689.4,343.7 689.7,340.2 690.0,343.5 690.3,339.9 690.6,343.8 690.9,340.0 691.2,343.5 691.5,340.3 691.8,344.1 692.1,338.3 692.4,343.6 692.7,340.0 693.0,343.4 693.3,340.6 693.6,344.0 693.9,339.0 694.2,343.7 694.5,340.1 694.8,343.7 695.1,340.0 695.4,343.9 695.7,340.2 696.0,343.6 696.3,339.1 696.6,343.5 696.9,340.6 697.2,344.0 697.5,340.4 697.8,345.6 698.1,340.1 698.4,343.5 698.7,340.0 699.0,344.9 699.3,340.3 699.6,343.9 699.9,340.3 700.2,344.0 700.5,340.3 700.8,344.1 701.1,339.8 701.4,343.6 701.7,339.2 702.0,344.0 702.3,340.2 702.6,344.1 702.9,340.7 703.2,343.7 703.5,339.9 703.8,343.7 704.1,340.3 704.4,343.8 704.7,340.1 705.0,344.9 705.3,340.1 705.6,344.0 705.9,340.6 706.2,343.4 706.2,343.4"/>
<path d="M696.8 324.6 L702.2 319.8 V323.8 H706 V325.4 H702.2 V329.6 Z" fill="#1a1aff"/>
<path d="M56.6 553 H65.6 L72.2 559.4 L65.6 565.8 H56.6 Q55.4 565.8 55.4 564.6 V554.2 Q55.4 553 56.6 553 Z" fill="#1414f5" stroke="#c8c070" stroke-width="0.7"/>
<text x="61.6" y="564.2" font-size="12.5" fill="#b9b08a" text-anchor="middle">1</text>
<clipPath id="c1"><rect x="40" y="238.7" width="120" height="14"/></clipPath>
<g clip-path="url(#c1)"><text x="57.5" y="248" font-size="17" font-weight="bold" font-family="'Liberation Serif',serif" fill="#111" textLength="24" lengthAdjust="spacingAndGlyphs">Tek</text><text x="86" y="247.8" font-size="14.5" font-family="'Noto Serif CJK SC',serif" fill="#333" textLength="28" lengthAdjust="spacingAndGlyphs">预览</text></g>
<rect x="72.6" y="604.4" width="271.0" height="17.0" rx="6" fill="#fff" stroke="#444" stroke-width="1.3"/>
<rect x="346.4" y="588.8" width="286.0" height="32.8" rx="5" fill="#fff" stroke="#444" stroke-width="1.3"/>
<line x1="78" y1="621.8" x2="628" y2="621.8" stroke="#777" stroke-width="1.6"/>
<path d="M72.6 662.0 V629.8 Q72.6 623.8 78.6 623.8 H626.4 Q632.4 623.8 632.4 629.8 V662.0" fill="#fff" stroke="#444" stroke-width="1.3"/>
<rect x="77.0" y="606.2" width="21.0" height="13.2" rx="6.6" fill="#1414f5"/><text x="87.5" y="617.3" font-size="13.5" fill="#fff" text-anchor="middle">1</text>
<text x="112.5" y="617.5" font-size="13.2" fill="#3030f2" textLength="30.5" lengthAdjust="spacingAndGlyphs">100 V</text>
<rect x="77.0" y="627.0" width="21.0" height="13.6" rx="6.8" fill="#1414f5"/><text x="87.5" y="638.4" font-size="13.5" fill="#fff" text-anchor="middle">1</text>
<rect x="77.0" y="643.0" width="21.0" height="13.6" rx="6.8" fill="#1414f5"/><text x="87.5" y="654.4" font-size="13.5" fill="#fff" text-anchor="middle">1</text>
<text x="102.5" y="639.4" font-size="14.5" fill="#3030f2" textLength="28.5" lengthAdjust="spacingAndGlyphs">最大</text>
<text x="102.5" y="655.4" font-size="14.5" fill="#3030f2" textLength="28.5" lengthAdjust="spacingAndGlyphs">最小</text>
<text x="191.0" y="637.5" font-size="13.2" fill="#3030f2" textLength="31.5" lengthAdjust="spacingAndGlyphs">540 V</text>
<text x="191.0" y="653.6" font-size="13.2" fill="#3030f2" textLength="35.0" lengthAdjust="spacingAndGlyphs">56.0 V</text>
<text x="350.5" y="602.2" font-size="13.2" fill="#222" textLength="35.5" lengthAdjust="spacingAndGlyphs">4.00μs</text>
<rect x="350.4" y="608.4" width="9.8" height="10.8" rx="1.5" fill="#ff9a00"/>
<text x="355.3" y="617.8" font-size="10.5" font-weight="bold" fill="#fff" text-anchor="middle">T</text>
<path d="M361 613.8 H366.6 M364.6 611.6 L366.8 613.8 L364.6 616" stroke="#ff9a00" stroke-width="1.2" fill="none"/><path d="M368.4 611 H377.4 L372.9 616.6 Z" fill="#ff9a00"/>
<text x="378.6" y="618.2" font-size="13.2" fill="#ff9a00" textLength="69.4" lengthAdjust="spacingAndGlyphs">−400.0000ns</text>
<text x="464.5" y="602.4" font-size="13.2" fill="#222" textLength="68.5" lengthAdjust="spacingAndGlyphs">2.50G次/秒</text>
<text x="464.5" y="618.4" font-size="13.2" fill="#222" textLength="32.5" lengthAdjust="spacingAndGlyphs">5M 点</text>
<rect x="559.0" y="591.2" width="22.0" height="13.2" rx="6.6" fill="#1414f5"/><text x="570.0" y="602.3" font-size="13.5" fill="#fff" text-anchor="middle">1</text>
<path d="M589 601.6 H590.6 L594.4 594 H596.4" stroke="#222" stroke-width="1.1" fill="none"/>
<text x="568.8" y="618.4" font-size="13.2" fill="#222" textLength="30.7" lengthAdjust="spacingAndGlyphs">532 V</text></g>
</g>
<g id="scope2" font-size="12.5">
<g stroke="#666" stroke-width="1" fill="none"><line x1="161.51" y1="766.90" x2="161.51" y2="1104.00" stroke-dasharray="1.2 7.212"/><line x1="221.92" y1="766.90" x2="221.92" y2="1104.00" stroke-dasharray="1.2 7.212"/><line x1="282.33" y1="766.90" x2="282.33" y2="1104.00" stroke-dasharray="1.2 7.212"/><line x1="342.74" y1="766.90" x2="342.74" y2="1104.00" stroke-dasharray="1.2 7.212"/><line x1="463.56" y1="766.90" x2="463.56" y2="1104.00" stroke-dasharray="1.2 7.212"/><line x1="523.97" y1="766.90" x2="523.97" y2="1104.00" stroke-dasharray="1.2 7.212"/><line x1="584.38" y1="766.90" x2="584.38" y2="1104.00" stroke-dasharray="1.2 7.212"/><line x1="644.79" y1="766.90" x2="644.79" y2="1104.00" stroke-dasharray="1.2 7.212"/><line x1="100.50" y1="809.56" x2="705.20" y2="809.56" stroke-dasharray="1.2 10.882"/><line x1="100.50" y1="851.62" x2="705.20" y2="851.62" stroke-dasharray="1.2 10.882"/><line x1="100.50" y1="893.69" x2="705.20" y2="893.69" stroke-dasharray="1.2 10.882"/><line x1="100.50" y1="977.81" x2="705.20" y2="977.81" stroke-dasharray="1.2 10.882"/><line x1="100.50" y1="1019.88" x2="705.20" y2="1019.88" stroke-dasharray="1.2 10.882"/><line x1="100.50" y1="1061.94" x2="705.20" y2="1061.94" stroke-dasharray="1.2 10.882"/></g><g stroke="#555" fill="none"><line x1="102.40" y1="767.00" x2="102.40" y2="1104.00" stroke-width="2.4" stroke-dasharray="1 7.412"/><line x1="703.90" y1="767.00" x2="703.90" y2="1104.00" stroke-width="2.4" stroke-dasharray="1 7.412"/><line x1="100.60" y1="768.80" x2="705.20" y2="768.80" stroke-width="2.4" stroke-dasharray="1 11.082"/><line x1="100.60" y1="1102.70" x2="705.20" y2="1102.70" stroke-width="2.4" stroke-dasharray="1 11.082"/><line x1="403.15" y1="767.00" x2="403.15" y2="1104.00" stroke-width="4.4" stroke-dasharray="1 7.412"/><line x1="100.60" y1="935.75" x2="705.20" y2="935.75" stroke-width="4.4" stroke-dasharray="1 11.082"/></g><g stroke="#333" stroke-width="1.2"><line x1="403.15" y1="767.50" x2="403.15" y2="1104.00"/><line x1="101.10" y1="935.75" x2="705.20" y2="935.75"/></g><path d="M100.80 1104.10 V766.50 H705.50 V1104.10" fill="none" stroke="#2a2a2a" stroke-width="1.15"/><line x1="100.20" y1="1104.10" x2="706.20" y2="1104.10" stroke="#000" stroke-width="2.2"/>
<rect x="181.6" y="753.6" width="442.6" height="12.6" fill="#fff" stroke="#222" stroke-width="1.3"/>
<line x1="271" y1="759.6" x2="536" y2="759.6" stroke="#5a5aff" stroke-width="1.2"/>
<rect x="398.2" y="753.6" width="9.6" height="13" fill="#ff9a00"/>
<path d="M400.4 753.8 Q397.6 753.8 397.6 756.4 V763.6 Q397.6 766.4 400.4 766.4 M405.6 753.8 Q408.4 753.8 408.4 756.4 V763.6 Q408.4 766.4 405.6 766.4" stroke="#111" stroke-width="1.5" fill="none"/>
<text x="403" y="765" font-size="11" font-weight="bold" fill="#fff" text-anchor="middle">T</text>
<path d="M398.2 767.2 H407.8 L403 772.4 Z" fill="#ff9a00"/>
<path d="M398.4 773 H407.6 V781.4 L403 785 L398.4 781.4 Z" fill="#ff9a00"/>
<text x="403" y="782.6" font-size="11" font-weight="bold" fill="#fff" text-anchor="middle">T</text>
<polyline fill="none" stroke="#1a1aff" stroke-width="1.15" stroke-linejoin="round" points="101.2,881.6 101.5,877.1 101.8,881.6 102.1,877.9 102.4,881.8 102.7,878.0 103.0,881.2 103.3,875.7 103.6,882.1 103.8,880.1 104.0,879.6 104.3,950.0 104.6,1004.0 104.8,1013.3 105.1,1009.4 105.4,1012.7 105.7,1007.7 106.0,1013.1 106.3,1008.5 106.6,1013.3 106.9,1008.7 107.2,1012.9 107.5,1008.3 107.8,1013.4 108.1,1009.1 108.4,1012.7 108.7,1009.0 109.0,1013.0 109.3,1006.5 109.6,1012.8 109.9,1008.9 110.2,1014.6 110.5,1008.7 110.8,1014.3 111.1,1009.0 111.4,1013.4 111.7,1009.1 112.0,1012.7 112.3,1009.2 112.6,1013.1 112.9,1008.6 113.2,1013.3 113.5,1008.9 113.8,1012.9 114.1,1008.5 114.4,1013.6 114.7,1009.0 115.0,1013.3 115.3,1008.3 115.6,1012.9 115.9,1009.0 116.2,1013.9 116.5,1008.7 116.8,1013.3 117.1,1008.9 117.4,1013.1 117.7,1008.4 118.0,1012.8 118.3,1008.5 118.6,1012.8 118.9,1008.3 119.2,1013.7 119.5,1008.7 119.8,1014.0 120.1,1008.3 120.4,1013.4 120.7,1008.5 121.0,1012.9 121.3,1006.8 121.6,1012.9 121.9,1008.4 122.2,1012.9 122.5,1007.8 122.8,1012.9 123.1,1009.3 123.4,1013.0 123.7,1009.3 124.0,1013.6 124.3,1008.7 124.6,1013.3 124.9,1008.1 125.2,1013.6 125.5,1006.3 125.8,1013.3 126.1,1008.6 126.4,1015.8 126.7,1008.8 127.0,1013.6 127.3,1008.6 127.6,1013.6 127.9,1008.6 128.2,1013.6 128.5,1008.5 128.8,1013.2 129.1,1009.0 129.4,1015.0 129.7,1008.7 130.0,1013.6 130.3,1009.0 130.6,1013.3 130.9,1006.6 131.0,1011.8 131.4,1007.5 131.8,1000.8 132.2,991.5 132.6,980.5 133.0,968.5 133.4,956.8 133.8,946.3 134.2,938.1 134.6,932.8 135.0,931.0 135.4,932.5 135.8,937.0 136.2,944.0 136.6,953.1 137.0,963.5 137.4,974.5 137.8,985.3 138.2,995.1 138.6,1003.1 139.0,1008.9 139.4,1012.0 139.8,1009.1 140.2,1003.8 140.7,996.3 141.1,987.3 141.5,977.3 141.9,967.1 142.3,957.4 142.7,949.0 143.2,942.5 143.6,938.4 144.0,937.0 144.4,938.7 144.8,943.5 145.2,951.2 145.6,960.9 146.0,971.7 146.4,982.7 146.8,993.0 147.2,1001.6 147.6,1007.7 148.0,1011.0 148.4,1006.8 148.8,1000.8 149.2,993.1 149.6,984.2 150.0,974.7 150.5,965.3 150.9,956.4 151.3,948.8 151.7,942.9 152.1,939.3 152.5,938.0 153.0,856.0 153.5,877.6 153.8,881.1 154.1,877.6 154.4,881.8 154.7,877.5 155.0,882.7 155.3,877.8 155.6,881.3 155.9,877.1 156.2,881.6 156.5,877.8 156.8,881.3 157.1,877.3 157.4,882.0 157.7,877.5 158.0,881.2 158.3,877.2 158.6,881.8 158.9,877.8 159.2,881.6 159.5,877.9 159.8,881.8 160.1,877.8 160.4,882.1 160.7,876.8 161.0,883.8 161.3,877.4 161.6,881.4 161.9,878.1 162.2,883.1 162.5,877.2 162.8,878.5 163.0,879.6 163.3,930.0 163.5,960.0 163.8,1003.0 164.0,1012.7 164.3,1008.9 164.6,1013.3 164.9,1008.3 165.2,1012.8 165.5,1007.8 165.8,1013.1 166.1,1009.2 166.4,1013.0 166.7,1008.8 167.0,1013.4 167.3,1008.5 167.6,1012.7 167.9,1008.6 168.2,1013.1 168.5,1008.4 168.8,1013.2 169.1,1008.5 169.4,1013.1 169.7,1009.2 170.0,1013.5 170.3,1008.6 170.6,1013.6 170.9,1008.3 171.2,1013.5 171.5,1008.4 171.8,1014.5 172.1,1008.9 172.4,1013.5 172.7,1009.4 173.0,1012.7 173.3,1009.2 173.6,1013.5 173.9,1009.2 174.2,1013.4 174.5,1008.6 174.8,1013.2 175.1,1009.3 175.4,1013.2 175.7,1008.6 176.0,1013.2 176.3,1008.8 176.6,1013.0 176.9,1008.4 177.2,1013.6 177.5,1008.8 177.8,1012.8 178.1,1008.8 178.4,1012.6 178.7,1008.8 179.0,1013.5 179.3,1008.9 179.6,1012.7 179.9,1008.9 180.2,1013.6 180.5,1008.9 180.8,1013.1 181.1,1008.4 181.4,1013.0 181.7,1008.7 182.0,1012.7 182.3,1009.4 182.6,1012.9 182.9,1009.0 183.2,1013.3 183.5,1008.6 183.8,1013.2 184.1,1009.2 184.4,1013.1 184.7,1008.9 185.0,1012.8 185.3,1008.7 185.6,1013.2 185.9,1008.7 186.2,1012.9 186.5,1008.5 186.8,1013.0 187.1,1008.4 187.4,1013.7 187.7,1009.2 188.0,1013.4 188.3,1009.3 188.6,1013.1 188.9,1009.3 189.2,1015.1 189.5,1009.2 189.8,1013.6 190.0,1009.8 190.4,1006.0 190.9,996.3 191.3,983.0 191.8,968.0 192.2,953.3 192.7,941.0 193.2,932.9 193.6,930.0 194.0,931.5 194.4,936.0 194.8,943.1 195.2,952.3 195.6,962.9 196.0,974.1 196.4,985.0 196.8,994.9 197.2,1003.0 197.6,1008.8 198.0,1012.0 198.4,1007.7 198.8,1001.5 199.2,993.6 199.6,984.5 200.0,974.8 200.4,965.0 200.8,955.9 201.2,948.1 201.6,942.1 202.0,938.3 202.4,937.0 203.0,858.0 203.5,877.6 203.8,881.6 204.1,877.6 204.4,882.6 204.7,876.8 205.0,881.7 205.3,877.5 205.6,881.3 205.9,877.2 206.2,883.9 206.5,878.0 206.8,881.6 207.1,877.8 207.4,881.6 207.7,875.9 208.0,881.8 208.3,877.9 208.6,881.9 208.9,877.9 209.2,883.2 209.5,877.2 209.8,881.8 210.1,877.4 210.4,881.7 210.7,877.1 211.0,881.4 211.3,877.3 211.6,882.0 211.9,877.2 212.2,881.8 212.5,877.3 212.8,880.3 213.0,879.6 213.3,930.0 213.5,960.0 213.8,1003.0 214.0,1012.7 214.3,1007.3 214.6,1013.0 214.9,1008.7 215.2,1013.7 215.5,1009.0 215.8,1013.2 216.1,1009.0 216.4,1013.3 216.7,1008.5 217.0,1012.6 217.3,1008.6 217.6,1014.6 217.9,1009.2 218.2,1012.7 218.5,1008.4 218.8,1013.2 219.1,1008.8 219.4,1013.3 219.7,1009.3 220.0,1015.3 220.3,1008.4 220.6,1013.1 220.9,1008.8 221.2,1012.7 221.5,1008.9 221.8,1013.3 222.1,1009.1 222.4,1013.2 222.7,1008.6 223.0,1012.6 223.3,1009.4 223.6,1013.4 223.9,1008.4 224.2,1012.7 224.5,1006.3 224.8,1013.6 225.1,1008.9 225.4,1012.9 225.7,1008.4 226.0,1013.1 226.3,1008.5 226.6,1012.7 226.9,1008.9 227.2,1012.7 227.5,1009.3 227.8,1013.3 228.1,1009.1 228.4,1013.1 228.7,1008.8 229.0,1013.7 229.3,1009.1 229.6,1013.6 229.9,1008.7 230.2,1012.9 230.5,1008.8 230.8,1013.3 231.1,1009.2 231.4,1013.7 231.7,1006.5 232.0,1012.7 232.3,1008.9 232.6,1012.7 232.9,1008.1 233.2,1013.4 233.5,1008.7 233.8,1013.1 234.1,1009.0 234.4,1015.4 234.7,1009.3 235.0,1013.3 235.3,1009.2 235.6,1012.9 235.9,1009.0 236.2,1013.7 236.5,1008.8 236.8,1013.6 237.1,1007.5 237.4,1015.5 237.7,1009.3 238.0,1013.1 238.3,1009.1 238.6,1012.7 238.9,1006.9 239.2,1012.9 239.5,1008.6 239.8,1012.8 240.0,1011.7 240.4,1007.4 240.8,1000.7 241.2,991.3 241.6,980.1 242.0,968.0 242.4,956.1 242.8,945.5 243.2,937.2 243.6,931.8 244.0,930.0 244.4,931.5 244.8,936.0 245.3,943.1 245.7,952.3 246.1,962.9 246.5,974.1 246.9,985.0 247.3,994.9 247.8,1003.0 248.2,1008.8 248.6,1012.0 249.0,1007.7 249.4,1001.5 249.8,993.6 250.2,984.5 250.6,974.8 251.0,965.0 251.4,955.9 251.8,948.1 252.2,942.1 252.6,938.3 253.0,937.0 253.4,856.0 253.9,877.6 254.2,881.5 254.5,877.4 254.8,882.1 255.1,877.1 255.4,881.9 255.7,877.8 256.0,882.1 256.3,877.8 256.6,881.5 256.9,877.7 257.2,881.3 257.5,877.3 257.8,882.0 258.1,877.9 258.4,882.0 258.7,878.1 259.0,881.7 259.3,877.1 259.6,883.7 259.9,877.5 260.2,882.4 260.5,877.3 260.8,881.2 261.1,877.9 261.4,881.8 261.7,877.9 262.0,881.6 262.3,877.7 262.6,882.1 262.9,877.6 263.2,880.3 263.4,879.6 263.7,930.0 263.9,960.0 264.2,1003.0 264.4,1013.4 264.7,1008.9 265.0,1013.3 265.3,1008.5 265.6,1013.6 265.9,1008.7 266.2,1013.4 266.5,1008.9 266.8,1012.8 267.1,1008.3 267.4,1012.8 267.7,1008.9 268.0,1015.7 268.3,1009.1 268.6,1013.3 268.9,1007.8 269.2,1013.1 269.5,1006.4 269.8,1012.7 270.1,1009.2 270.4,1013.4 270.7,1009.1 271.0,1012.9 271.3,1008.6 271.6,1013.2 271.9,1008.9 272.2,1013.6 272.5,1009.0 272.8,1013.7 273.1,1007.8 273.4,1013.7 273.7,1009.0 274.0,1013.2 274.3,1008.3 274.6,1014.3 274.9,1008.9 275.2,1013.5 275.5,1008.7 275.8,1012.8 276.1,1009.1 276.4,1013.2 276.7,1008.3 277.0,1013.2 277.3,1006.7 277.6,1013.5 277.9,1006.6 278.2,1012.9 278.5,1009.3 278.8,1013.1 279.1,1008.7 279.4,1012.9 279.7,1008.9 280.0,1012.7 280.3,1009.2 280.6,1013.2 280.9,1008.5 281.2,1014.4 281.5,1009.1 281.8,1013.4 282.1,1008.6 282.4,1013.0 282.7,1008.3 283.0,1015.1 283.3,1009.0 283.6,1012.9 283.9,1007.3 284.2,1013.7 284.5,1009.2 284.8,1012.9 285.1,1008.8 285.4,1013.0 285.7,1008.7 286.0,1012.8 286.3,1009.0 286.6,1013.2 286.9,1009.0 287.2,1012.7 287.5,1009.3 287.8,1013.4 288.1,1008.9 288.4,1015.0 288.7,1009.1 289.0,1012.7 289.3,1009.3 289.6,1013.1 289.9,1008.7 290.0,1012.0 290.4,1006.2 290.8,999.0 291.2,990.0 291.6,979.6 292.0,968.8 292.4,958.4 292.8,949.3 293.2,942.1 293.6,937.6 294.0,936.0 294.5,860.0 295.0,877.6 295.3,881.5 295.6,876.2 295.9,881.5 296.2,877.1 296.5,881.8 296.8,878.1 297.1,881.5 297.4,878.0 297.7,881.6 298.0,877.2 298.3,881.3 298.6,877.2 298.9,881.5 299.2,878.0 299.5,882.1 299.8,877.3 300.1,881.3 300.4,877.4 300.7,881.2 301.0,877.5 301.3,881.4 301.6,877.7 301.9,881.2 302.2,878.0 302.5,881.7 302.8,877.5 303.1,882.1 303.4,877.2 303.7,881.2 304.0,877.8 304.2,878.8 304.4,879.6 304.7,930.0 304.9,960.0 305.2,1003.0 305.4,1013.2 305.7,1009.2 306.0,1013.9 306.3,1009.2 306.6,1013.7 306.9,1009.1 307.2,1013.4 307.5,1008.7 307.8,1012.6 308.1,1008.9 308.4,1013.0 308.7,1009.2 309.0,1012.9 309.3,1009.0 309.6,1012.6 309.9,1009.2 310.2,1013.3 310.5,1008.9 310.8,1013.4 311.1,1008.6 311.4,1013.7 311.7,1008.4 312.0,1013.1 312.3,1008.4 312.6,1013.2 312.9,1008.4 313.2,1012.7 313.5,1008.4 313.8,1013.3 314.1,1009.1 314.4,1012.7 314.7,1008.9 315.0,1014.6 315.3,1008.6 315.6,1012.9 315.9,1009.0 316.2,1012.7 316.5,1008.3 316.8,1013.6 317.1,1008.5 317.4,1013.4 317.7,1006.4 318.0,1013.5 318.3,1008.8 318.6,1012.6 318.9,1009.1 319.2,1012.7 319.5,1008.5 319.8,1013.0 320.1,1008.1 320.4,1013.6 320.7,1008.8 321.0,1013.7 321.3,1009.2 321.6,1013.6 321.9,1009.2 322.2,1013.0 322.5,1009.2 322.8,1013.7 323.1,1008.7 323.4,1015.5 323.7,1009.3 324.0,1013.0 324.3,1008.4 324.6,1012.8 324.9,1008.3 325.2,1012.7 325.5,1009.1 325.8,1012.8 326.1,1009.1 326.4,1013.5 326.7,1008.7 327.0,1013.3 327.3,1009.1 327.6,1013.3 327.9,1006.9 328.2,1013.7 328.5,1008.8 328.8,1012.7 329.1,1009.1 329.4,1015.4 329.7,1009.1 330.0,1012.9 330.3,1008.8 330.6,1013.6 330.9,1009.4 331.2,1013.4 331.4,1012.4 331.8,1005.5 332.2,997.2 332.6,986.6 333.0,974.8 333.4,963.0 333.8,952.1 334.2,943.5 334.6,937.9 335.0,936.0 335.5,860.0 336.0,877.6 336.3,881.6 336.6,877.5 336.9,881.5 337.2,877.3 337.5,881.6 337.8,877.4 338.1,882.1 338.4,877.3 338.7,881.7 339.0,877.6 339.3,881.9 339.6,877.9 339.9,881.3 340.2,876.1 340.5,881.7 340.8,877.5 341.1,881.3 341.4,878.1 341.7,881.6 342.0,877.8 342.3,881.2 342.6,877.5 342.9,881.9 343.2,877.9 343.5,881.1 343.8,877.4 344.1,881.4 344.4,878.0 344.7,881.3 344.8,878.6 345.0,879.6 345.3,930.0 345.5,960.0 345.8,1003.0 346.0,1013.4 346.3,1006.7 346.6,1013.1 346.9,1009.2 347.2,1012.6 347.5,1008.5 347.8,1012.8 348.1,1006.7 348.4,1012.9 348.7,1009.2 349.0,1012.9 349.3,1008.1 349.6,1013.7 349.9,1008.6 350.2,1012.9 350.5,1009.1 350.8,1013.6 351.1,1009.0 351.4,1015.0 351.7,1008.9 352.0,1012.7 352.3,1008.6 352.6,1013.3 352.9,1008.9 353.2,1013.5 353.5,1008.5 353.8,1013.0 354.1,1008.8 354.4,1012.8 354.7,1008.9 355.0,1013.1 355.3,1008.6 355.6,1012.8 355.9,1009.3 356.2,1013.0 356.5,1009.4 356.8,1012.9 357.1,1008.4 357.4,1012.9 357.7,1009.2 358.0,1013.0 358.3,1008.6 358.6,1012.6 358.9,1007.4 359.2,1013.6 359.5,1008.5 359.8,1012.7 360.1,1007.7 360.4,1012.8 360.7,1009.4 361.0,1013.1 361.3,1009.2 361.6,1012.9 361.9,1008.7 362.2,1012.8 362.5,1008.6 362.8,1013.0 363.1,1009.1 363.4,1013.0 363.7,1008.1 364.0,1013.3 364.3,1008.5 364.6,1012.9 364.9,1008.4 365.2,1013.4 365.5,1008.3 365.8,1012.9 366.1,1009.3 366.4,1014.6 366.7,1009.0 367.0,1013.2 367.3,1009.2 367.6,1013.1 367.9,1008.7 368.2,1012.7 368.5,1008.9 368.8,1013.3 369.1,1008.8 369.4,1012.6 369.7,1007.5 370.0,1014.6 370.3,1008.8 370.6,1013.1 370.9,1007.7 371.2,1013.0 371.5,1008.8 371.8,1013.3 372.1,1008.9 372.4,1012.5 372.8,1007.5 373.2,1000.8 373.6,991.5 374.0,980.5 374.4,968.5 374.8,956.8 375.2,946.3 375.6,938.1 376.0,932.8 376.4,931.0 376.8,932.5 377.2,936.9 377.7,943.8 378.1,952.8 378.5,963.1 378.9,974.0 379.3,984.6 379.7,994.3 380.2,1002.2 380.6,1007.9 381.0,1011.0 381.4,1007.7 381.8,1001.6 382.2,993.0 382.6,982.7 383.0,971.7 383.4,960.9 383.8,951.2 384.2,943.5 384.6,938.7 385.0,937.0 385.4,938.7 385.9,943.5 386.3,951.0 386.8,960.5 387.2,971.2 387.6,982.1 388.1,992.2 388.5,1000.7 389.0,1006.8 389.4,1010.0 389.8,1007.3 390.2,1002.2 390.7,995.2 391.1,986.6 391.5,977.1 391.9,967.5 392.3,958.3 392.7,950.4 393.2,944.2 393.6,940.3 394.0,939.0 394.4,940.5 394.8,944.9 395.2,951.8 395.6,960.6 396.0,970.4 396.4,980.4 396.8,989.7 397.2,997.5 397.6,1003.0 398.0,1006.0 398.4,1001.8 398.8,995.6 399.2,987.8 399.6,978.8 400.0,969.5 400.4,960.4 400.8,952.5 401.2,946.3 401.6,942.4 402.0,941.0 402.6,854.0 403.1,877.6 403.4,881.5 403.7,877.1 404.0,881.8 404.3,877.7 404.6,881.4 404.9,877.2 405.2,883.9 405.5,878.0 405.8,881.4 406.1,877.1 406.4,881.3 406.7,877.4 407.0,881.1 407.3,877.7 407.6,881.6 407.9,877.5 408.2,881.7 408.5,877.1 408.8,881.5 409.1,877.8 409.4,881.8 409.7,877.1 410.0,881.3 410.3,877.6 410.6,881.5 410.9,877.3 411.2,881.3 411.5,877.8 411.8,881.6 412.1,876.9 412.4,878.4 412.6,879.6 412.9,930.0 413.1,960.0 413.4,1003.0 413.6,1013.4 413.9,1008.9 414.2,1013.1 414.5,1008.4 414.8,1012.7 415.1,1008.8 415.4,1013.0 415.7,1009.1 416.0,1013.0 416.3,1008.5 416.6,1013.5 416.9,1008.9 417.2,1013.3 417.5,1008.5 417.8,1013.0 418.1,1009.1 418.4,1012.6 418.7,1008.3 419.0,1012.7 419.3,1008.9 419.6,1013.0 419.9,1006.3 420.2,1013.4 420.5,1009.4 420.8,1013.4 421.1,1009.3 421.4,1012.6 421.7,1008.9 422.0,1012.9 422.3,1008.5 422.6,1013.0 422.9,1008.5 423.2,1013.0 423.5,1008.8 423.8,1012.8 424.1,1009.3 424.4,1012.9 424.7,1009.3 425.0,1012.6 425.3,1009.2 425.6,1012.9 425.9,1008.9 426.2,1014.3 426.5,1009.3 426.8,1014.4 427.1,1009.2 427.4,1013.7 427.7,1008.4 428.0,1013.1 428.3,1007.4 428.6,1013.2 428.9,1008.7 429.2,1013.7 429.5,1008.3 429.8,1013.5 430.1,1007.9 430.4,1012.8 430.7,1009.3 431.0,1013.4 431.3,1007.2 431.6,1012.8 431.9,1009.4 432.2,1013.5 432.5,1008.6 432.8,1013.5 433.1,1008.5 433.4,1012.7 433.7,1008.9 434.0,1012.9 434.3,1009.4 434.6,1012.9 434.9,1009.0 435.2,1013.5 435.5,1008.7 435.8,1012.9 436.1,1007.6 436.4,1013.0 436.7,1009.2 437.0,1013.2 437.3,1009.2 437.6,1012.8 437.9,1007.4 438.2,1013.2 438.5,1009.0 438.8,1013.7 439.0,1012.2 439.4,1007.5 439.8,1000.8 440.2,991.5 440.6,980.5 441.0,968.5 441.4,956.8 441.8,946.3 442.2,938.1 442.6,932.8 443.0,931.0 443.4,932.8 443.9,938.1 444.3,946.3 444.8,956.8 445.2,968.5 445.6,980.5 446.1,991.5 446.5,1000.8 447.0,1007.5 447.4,1011.0 447.8,1008.1 448.2,1002.9 448.7,995.5 449.1,986.6 449.5,976.8 449.9,966.7 450.3,957.1 450.7,948.9 451.2,942.4 451.6,938.4 452.0,937.0 452.4,938.7 452.8,943.5 453.2,951.2 453.6,960.9 454.0,971.7 454.4,982.7 454.8,993.0 455.2,1001.6 455.6,1007.7 456.0,1011.0 456.4,1008.2 456.8,1003.1 457.3,996.0 457.7,987.3 458.1,977.7 458.5,967.9 458.9,958.6 459.3,950.5 459.8,944.3 460.2,940.3 460.6,939.0 461.0,940.5 461.5,945.0 461.9,952.0 462.4,960.9 462.8,970.9 463.2,981.0 463.7,990.5 464.1,998.3 464.6,1004.0 465.0,1007.0 465.4,1002.8 465.8,996.5 466.2,988.5 466.6,979.4 467.0,969.9 467.4,960.7 467.8,952.7 468.2,946.4 468.6,942.4 469.0,941.0 469.4,853.0 469.9,877.6 470.2,881.4 470.5,878.0 470.8,881.6 471.1,877.9 471.4,881.8 471.7,877.8 472.0,882.1 472.3,877.9 472.6,882.1 472.9,877.4 473.2,881.8 473.5,877.5 473.8,882.0 474.1,877.6 474.4,881.2 474.7,877.4 475.0,881.8 475.3,877.7 475.6,881.7 475.9,876.0 476.2,881.8 476.5,877.5 476.8,882.1 477.1,877.6 477.4,881.9 477.7,877.3 478.0,881.5 478.3,878.0 478.6,881.6 478.8,880.6 479.0,879.6 479.3,930.0 479.5,960.0 479.8,1003.0 480.0,1013.3 480.3,1008.5 480.6,1013.2 480.9,1009.3 481.2,1013.4 481.5,1008.5 481.8,1013.2 482.1,1009.2 482.4,1015.1 482.7,1008.8 483.0,1013.1 483.3,1008.5 483.6,1013.5 483.9,1008.4 484.2,1012.8 484.5,1008.0 484.8,1013.0 485.1,1008.5 485.4,1012.8 485.7,1008.4 486.0,1015.6 486.3,1008.3 486.6,1013.3 486.9,1008.6 487.2,1013.3 487.5,1009.4 487.8,1013.0 488.1,1009.1 488.4,1013.4 488.7,1009.3 489.0,1013.1 489.3,1009.3 489.6,1013.3 489.9,1009.2 490.2,1013.4 490.5,1009.0 490.8,1013.1 491.1,1008.7 491.4,1013.5 491.7,1008.9 492.0,1013.7 492.3,1008.6 492.6,1013.2 492.9,1008.4 493.2,1013.6 493.5,1008.9 493.8,1013.0 494.1,1008.7 494.4,1012.7 494.7,1009.1 495.0,1013.7 495.3,1008.6 495.6,1012.9 495.9,1009.3 496.2,1012.9 496.5,1009.0 496.8,1013.6 497.1,1007.1 497.4,1015.6 497.7,1009.0 498.0,1013.4 498.3,1009.0 498.6,1015.7 498.9,1008.7 499.2,1013.0 499.5,1009.0 499.8,1013.3 500.1,1008.3 500.4,1013.0 500.7,1008.7 501.0,1015.8 501.3,1008.9 501.6,1013.3 501.9,1008.3 502.2,1013.0 502.5,1009.0 502.8,1012.7 503.1,1008.7 503.4,1013.4 503.7,1008.5 504.0,1013.5 504.3,1007.3 504.6,1013.6 504.9,1006.4 505.2,1013.0 505.5,1008.8 505.8,1013.5 506.0,1011.0 506.4,1007.5 506.9,1000.8 507.3,991.5 507.8,980.5 508.2,968.5 508.6,956.8 509.1,946.3 509.5,938.1 510.0,932.8 510.4,931.0 510.8,932.5 511.2,936.9 511.7,943.8 512.1,952.8 512.5,963.1 512.9,974.0 513.3,984.6 513.7,994.3 514.2,1002.2 514.6,1007.9 515.0,1011.0 515.4,1007.7 515.9,1001.6 516.3,993.0 516.8,982.7 517.2,971.7 517.6,960.9 518.1,951.2 518.5,943.5 519.0,938.7 519.4,937.0 519.8,938.4 520.2,942.4 520.7,948.9 521.1,957.1 521.5,966.7 521.9,976.8 522.3,986.6 522.7,995.5 523.2,1002.9 523.6,1008.1 524.0,1011.0 524.4,1006.3 524.8,999.4 525.2,990.5 525.6,980.5 526.0,970.0 526.4,959.8 526.8,950.9 527.2,944.0 527.6,939.5 528.0,938.0 528.4,855.0 528.9,877.6 529.2,881.2 529.5,876.7 529.8,881.6 530.1,877.3 530.4,883.0 530.7,877.9 531.0,881.7 531.3,877.2 531.6,882.0 531.9,877.1 532.2,881.5 532.5,877.2 532.8,883.0 533.1,877.9 533.4,881.9 533.7,877.9 534.0,881.1 534.3,877.8 534.6,881.8 534.9,878.1 535.2,881.2 535.5,878.0 535.8,881.4 536.1,877.4 536.4,882.1 536.7,877.6 537.0,881.5 537.3,877.3 537.6,881.5 537.8,879.5 538.0,879.6 538.3,930.0 538.5,960.0 538.8,1003.0 539.0,1013.0 539.3,1007.3 539.6,1015.4 539.9,1008.8 540.2,1013.0 540.5,1009.3 540.8,1013.0 541.1,1009.1 541.4,1014.8 541.7,1008.9 542.0,1012.6 542.3,1008.3 542.6,1013.3 542.9,1009.1 543.2,1013.3 543.5,1008.8 543.8,1015.3 544.1,1009.3 544.4,1012.9 544.7,1008.9 545.0,1013.1 545.3,1006.9 545.6,1013.7 545.9,1009.0 546.2,1013.5 546.5,1006.9 546.8,1015.3 547.1,1008.7 547.4,1013.6 547.7,1009.4 548.0,1013.4 548.3,1009.4 548.6,1013.1 548.9,1008.3 549.2,1012.7 549.5,1008.9 549.8,1013.0 550.1,1008.9 550.4,1013.0 550.7,1009.3 551.0,1013.5 551.3,1008.8 551.6,1012.7 551.9,1008.3 552.2,1013.6 552.5,1008.9 552.8,1013.5 553.1,1008.4 553.4,1012.6 553.7,1009.0 554.0,1013.6 554.3,1008.6 554.6,1013.5 554.9,1008.6 555.2,1013.3 555.5,1009.0 555.8,1013.0 556.1,1008.8 556.4,1013.2 556.7,1009.0 557.0,1013.1 557.3,1009.0 557.6,1012.9 557.9,1008.6 558.2,1014.3 558.5,1008.5 558.8,1013.4 559.1,1008.7 559.4,1013.7 559.7,1008.9 560.0,1012.9 560.3,1009.3 560.6,1015.5 560.9,1008.6 561.2,1013.2 561.5,1009.2 561.8,1013.5 562.1,1009.3 562.4,1012.8 562.7,1008.8 563.0,1012.7 563.3,1008.7 563.6,1013.6 563.9,1009.0 564.2,1013.4 564.5,1008.4 564.8,1012.9 565.0,1009.5 565.4,1007.4 565.8,1000.7 566.2,991.3 566.6,980.1 567.0,968.0 567.4,956.1 567.8,945.5 568.2,937.2 568.6,931.8 569.0,930.0 569.4,931.5 569.8,936.0 570.3,943.0 570.7,952.1 571.1,962.5 571.5,973.5 571.9,984.3 572.3,994.1 572.8,1002.1 573.2,1007.9 573.6,1011.0 574.0,1007.7 574.5,1001.6 574.9,993.0 575.4,982.7 575.8,971.7 576.2,960.9 576.7,951.2 577.1,943.5 577.6,938.7 578.0,937.0 578.4,938.7 578.9,943.5 579.3,951.2 579.8,960.9 580.2,971.7 580.6,982.7 581.1,993.0 581.5,1001.6 582.0,1007.7 582.4,1011.0 582.8,1005.7 583.2,997.5 583.7,987.3 584.1,975.8 584.5,964.2 584.9,953.7 585.4,945.3 585.8,939.9 586.2,938.0 586.6,855.0 587.1,877.6 587.4,881.7 587.7,877.8 588.0,881.2 588.3,877.8 588.6,881.4 588.9,877.2 589.2,882.0 589.5,877.5 589.8,881.9 590.1,877.4 590.4,881.9 590.7,878.0 591.0,881.5 591.3,877.9 591.6,881.5 591.9,877.1 592.2,881.7 592.5,877.9 592.8,881.2 593.1,875.8 593.4,882.0 593.7,877.5 594.0,882.1 594.3,875.4 594.6,883.4 594.9,878.1 595.2,882.1 595.5,877.2 595.8,883.2 596.1,877.5 596.4,881.7 596.4,879.6 596.6,879.6 596.9,930.0 597.1,960.0 597.4,1003.0 597.6,1012.8 597.9,1008.9 598.2,1012.7 598.5,1008.8 598.8,1013.2 599.1,1009.1 599.4,1013.4 599.7,1008.3 600.0,1013.6 600.3,1006.4 600.6,1013.1 600.9,1008.6 601.2,1013.3 601.5,1009.3 601.8,1015.7 602.1,1009.3 602.4,1015.7 602.7,1009.4 603.0,1013.4 603.3,1008.8 603.6,1015.4 603.9,1009.3 604.2,1013.7 604.5,1008.9 604.8,1014.5 605.1,1008.5 605.4,1013.3 605.7,1009.0 606.0,1013.1 606.3,1008.4 606.6,1012.8 606.9,1008.9 607.2,1013.0 607.5,1008.7 607.8,1013.2 608.1,1008.4 608.4,1012.9 608.7,1009.0 609.0,1013.4 609.3,1007.1 609.6,1013.5 609.9,1009.2 610.2,1013.7 610.5,1009.0 610.8,1013.7 611.1,1009.2 611.4,1013.5 611.7,1008.5 612.0,1012.9 612.3,1008.6 612.6,1015.4 612.9,1008.8 613.2,1012.7 613.5,1009.2 613.8,1013.6 614.1,1008.4 614.4,1013.6 614.7,1008.6 615.0,1012.8 615.3,1008.6 615.6,1013.4 615.9,1008.9 616.2,1012.7 616.5,1006.4 616.8,1012.8 617.1,1009.3 617.4,1012.8 617.7,1008.8 618.0,1013.2 618.3,1008.8 618.6,1012.7 618.9,1009.3 619.2,1013.5 619.5,1008.8 619.8,1013.0 620.1,1009.1 620.4,1013.7 620.7,1008.7 621.0,1013.1 621.3,1008.3 621.6,1012.6 621.9,1007.4 622.2,1012.8 622.5,1008.6 622.8,1012.6 623.1,1008.5 623.4,1013.3 623.6,1010.0 624.0,1007.5 624.4,1000.8 624.8,991.5 625.2,980.5 625.6,968.5 626.0,956.8 626.4,946.3 626.8,938.1 627.2,932.8 627.6,931.0 628.0,932.8 628.5,938.1 628.9,946.3 629.4,956.8 629.8,968.5 630.2,980.5 630.7,991.5 631.1,1000.8 631.6,1007.5 632.0,1011.0 632.4,1008.1 632.8,1002.9 633.3,995.5 633.7,986.6 634.1,976.8 634.5,966.7 634.9,957.1 635.3,948.9 635.8,942.4 636.2,938.4 636.6,937.0 637.0,938.7 637.5,943.5 637.9,951.2 638.4,960.9 638.8,971.7 639.2,982.7 639.7,993.0 640.1,1001.6 640.6,1007.7 641.0,1011.0 641.4,1006.3 641.8,999.4 642.2,990.5 642.6,980.5 643.0,970.0 643.4,959.8 643.8,950.9 644.2,944.0 644.6,939.5 645.0,938.0 645.4,855.0 645.9,877.6 646.2,881.1 646.5,878.1 646.8,881.7 647.1,877.6 647.4,881.4 647.7,877.2 648.0,881.5 648.3,877.6 648.6,882.1 648.9,877.1 649.2,882.0 649.5,877.6 649.8,881.4 650.1,877.3 650.4,881.7 650.7,877.1 651.0,881.2 651.3,877.7 651.6,881.6 651.9,877.6 652.2,881.1 652.5,877.8 652.8,881.8 653.1,878.0 653.4,881.6 653.7,877.1 654.0,883.0 654.3,877.3 654.6,882.0 654.9,877.8 655.2,881.6 655.2,879.8 655.4,879.6 655.7,930.0 655.9,960.0 656.2,1003.0 656.4,1013.7 656.7,1008.9 657.0,1013.5 657.3,1009.0 657.6,1012.8 657.9,1008.5 658.2,1013.6 658.5,1008.5 658.8,1013.5 659.1,1009.2 659.4,1012.9 659.7,1006.4 660.0,1013.2 660.3,1008.5 660.6,1013.6 660.9,1006.9 661.2,1013.3 661.5,1008.3 661.8,1012.9 662.1,1008.6 662.4,1013.7 662.7,1009.3 663.0,1012.7 663.3,1008.5 663.6,1013.6 663.9,1008.3 664.2,1013.2 664.5,1007.5 664.8,1012.8 665.1,1009.1 665.4,1013.5 665.7,1008.8 666.0,1012.9 666.3,1008.7 666.6,1013.7 666.9,1008.4 667.2,1012.9 667.5,1008.7 667.8,1013.5 668.1,1009.1 668.4,1014.8 668.7,1008.4 669.0,1013.1 669.3,1009.1 669.6,1013.3 669.9,1007.6 670.2,1012.7 670.5,1008.8 670.8,1013.3 671.1,1008.9 671.4,1013.1 671.7,1009.3 672.0,1013.4 672.3,1008.8 672.6,1013.7 672.9,1009.1 673.2,1013.7 673.5,1009.2 673.8,1012.7 674.1,1008.8 674.4,1013.4 674.7,1009.0 675.0,1013.3 675.3,1008.9 675.6,1012.7 675.9,1008.3 676.2,1013.9 676.5,1009.1 676.8,1013.1 677.1,1008.9 677.4,1013.4 677.7,1008.7 678.0,1015.0 678.3,1008.6 678.6,1012.7 678.9,1008.2 679.2,1013.0 679.5,1009.3 679.8,1013.6 680.1,1008.7 680.4,1013.7 680.7,1009.1 681.0,1013.6 681.3,1008.9 681.6,1013.6 681.9,1008.5 682.2,1013.1 682.4,1010.8 682.8,1007.4 683.2,1000.7 683.6,991.3 684.0,980.1 684.4,968.0 684.8,956.1 685.2,945.5 685.6,937.2 686.0,931.8 686.4,930.0 686.8,931.5 687.2,936.0 687.7,943.0 688.1,952.1 688.5,962.5 688.9,973.5 689.3,984.3 689.7,994.1 690.2,1002.1 690.6,1007.9 691.0,1011.0 691.4,1007.7 691.9,1001.6 692.3,993.0 692.8,982.7 693.2,971.7 693.6,960.9 694.1,951.2 694.5,943.5 695.0,938.7 695.4,937.0 695.8,938.7 696.2,943.5 696.7,951.2 697.1,960.9 697.5,971.7 697.9,982.7 698.3,993.0 698.8,1001.6 699.2,1007.7 699.6,1011.0 700.0,1006.3 700.4,999.4 700.8,990.5 701.2,980.5 701.6,970.0 702.0,959.8 702.4,950.9 702.8,944.0 703.2,939.5 703.6,938.0 704.0,855.0 704.5,877.6 704.8,881.6 705.1,880.0 705.3,879.6 705.6,930.0 705.8,960.0 706.1,1003.0"/>
<path d="M696.4 857 L701.6 852.2 V856.2 H705 V857.8 H701.6 V861.8 Z" fill="#1a1aff"/>
<path d="M84 1013 H93 L99.6 1019.4 L93 1025.8 H84 Q82.8 1025.8 82.8 1024.6 V1014.2 Q82.8 1013 84 1013 Z" fill="#1414f5" stroke="#c8c070" stroke-width="0.7"/>
<text x="89" y="1024.2" font-size="12.5" fill="#b9b08a" text-anchor="middle">1</text>
<text x="84" y="765" font-size="17" font-weight="bold" font-family="'Liberation Serif',serif" fill="#111" textLength="24" lengthAdjust="spacingAndGlyphs">Tek</text><text x="111.5" y="764.6" font-size="14.5" font-family="'Noto Serif CJK SC',serif" fill="#333" textLength="29" lengthAdjust="spacingAndGlyphs">预览</text>
<rect x="100.6" y="1105.0" width="258.2" height="16.4" rx="6" fill="#fff" stroke="#444" stroke-width="1.3"/>
<rect x="362.0" y="1090.0" width="272.5" height="31.6" rx="5" fill="#fff" stroke="#444" stroke-width="1.3"/>
<line x1="106" y1="1121.8" x2="630" y2="1121.8" stroke="#777" stroke-width="1.6"/>
<rect x="100.6" y="1123.8" width="533.9" height="31.4" rx="6" fill="#fff" stroke="#444" stroke-width="1.3"/>
<rect x="105.0" y="1107.0" width="20.5" height="12.6" rx="6.3" fill="#1414f5"/><text x="115.2" y="1117.6" font-size="13.5" fill="#fff" text-anchor="middle">1</text>
<text x="138.3" y="1117.6" font-size="13.2" fill="#3030f2" textLength="33.0" lengthAdjust="spacingAndGlyphs">20.0 V</text>
<rect x="105.0" y="1126.2" width="20.5" height="13.2" rx="6.6" fill="#1414f5"/><text x="115.2" y="1137.3" font-size="13.5" fill="#fff" text-anchor="middle">1</text>
<rect x="105.0" y="1141.4" width="20.5" height="13.0" rx="6.5" fill="#1414f5"/><text x="115.2" y="1152.3" font-size="13.5" fill="#fff" text-anchor="middle">1</text>
<text x="128.8" y="1138.4" font-size="14.5" fill="#3030f2" textLength="27.5" lengthAdjust="spacingAndGlyphs">最大</text>
<text x="128.8" y="1153.6" font-size="14.5" fill="#3030f2" textLength="27.5" lengthAdjust="spacingAndGlyphs">最小</text>
<text x="214.3" y="1136.4" font-size="13.2" fill="#3030f2" textLength="32.7" lengthAdjust="spacingAndGlyphs">79.2 V</text>
<text x="214.3" y="1152.2" font-size="13.2" fill="#3030f2" textLength="32.7" lengthAdjust="spacingAndGlyphs">2.40 V</text>
<text x="366.3" y="1103.0" font-size="13.2" fill="#222" textLength="33.2" lengthAdjust="spacingAndGlyphs">10.0μs</text>
<rect x="365" y="1108.6" width="9.4" height="10.8" rx="1.5" fill="#ff9a00"/>
<text x="369.7" y="1118" font-size="10.5" font-weight="bold" fill="#fff" text-anchor="middle">T</text>
<path d="M375.4 1114 H380.6 M378.6 1111.8 L380.8 1114 L378.6 1116.2" stroke="#ff9a00" stroke-width="1.2" fill="none"/><path d="M382 1111.2 H391.6 L386.8 1116.8 Z" fill="#ff9a00"/>
<text x="393.0" y="1118.0" font-size="13.2" fill="#ff9a00" textLength="56.2" lengthAdjust="spacingAndGlyphs">0.000000 s</text>
<text x="474.3" y="1103.0" font-size="13.2" fill="#222" textLength="64.5" lengthAdjust="spacingAndGlyphs">2.50G次/秒</text>
<text x="474.3" y="1118.6" font-size="13.2" fill="#222" textLength="32.0" lengthAdjust="spacingAndGlyphs">5M 点</text>
<rect x="564.5" y="1093.0" width="20.5" height="12.6" rx="6.3" fill="#1414f5"/><text x="574.8" y="1103.6" font-size="13.5" fill="#fff" text-anchor="middle">1</text>
<path d="M593 1103 H594.6 L598.6 1095.4 H600.6" stroke="#222" stroke-width="1.1" fill="none"/>
<text x="569.5" y="1118.0" font-size="13.2" fill="#222" textLength="33.0" lengthAdjust="spacingAndGlyphs">77.6 V</text>
</g>
<g id="watermark">
<g opacity="0.072" fill="none" stroke="#000" stroke-linejoin="round" stroke-linecap="round">
<g transform="translate(90 -117)"><path d="M122 50 L0 0 L-18.2 131 M-24.9 179 L-43 309.5 L290 118.8 L165 67.6" stroke-width="4.6"/><path d="M96 67.8 L17 36 L6.6 112 M-2.3 177 L-14.5 266 L233.8 123.3 L140 85.5" stroke-width="4.6"/><path d="M105 -17 L140 8 L110 26 Z" stroke-width="2.4"/><path d="M-122 229 L-89 252 L-114 267 Z" stroke-width="2.4"/><path d="M-77 252 L-54 266 L-72 279 Z" stroke-width="2.4"/><text transform="translate(-85.5 205) rotate(-30)" font-size="22.5" font-weight="300" fill="#000" stroke="none" textLength="297" lengthAdjust="spacing">顾佰特电源 : :0755-89700535</text></g>
<g transform="translate(629 -117)"><path d="M122 50 L0 0 L-18.2 131 M-24.9 179 L-43 309.5 L290 118.8 L165 67.6" stroke-width="4.6"/><path d="M96 67.8 L17 36 L6.6 112 M-2.3 177 L-14.5 266 L233.8 123.3 L140 85.5" stroke-width="4.6"/><path d="M105 -17 L140 8 L110 26 Z" stroke-width="2.4"/><path d="M-122 229 L-89 252 L-114 267 Z" stroke-width="2.4"/><path d="M-77 252 L-54 266 L-72 279 Z" stroke-width="2.4"/><text transform="translate(-85.5 205) rotate(-30)" font-size="22.5" font-weight="300" fill="#000" stroke="none" textLength="297" lengthAdjust="spacing">顾佰特电源 : :0755-89700535</text></g>
<g transform="translate(90 355)"><path d="M122 50 L0 0 L-18.2 131 M-24.9 179 L-43 309.5 L290 118.8 L165 67.6" stroke-width="4.6"/><path d="M96 67.8 L17 36 L6.6 112 M-2.3 177 L-14.5 266 L233.8 123.3 L140 85.5" stroke-width="4.6"/><path d="M105 -17 L140 8 L110 26 Z" stroke-width="2.4"/><path d="M-122 229 L-89 252 L-114 267 Z" stroke-width="2.4"/><path d="M-77 252 L-54 266 L-72 279 Z" stroke-width="2.4"/><text transform="translate(-85.5 205) rotate(-30)" font-size="22.5" font-weight="300" fill="#000" stroke="none" textLength="297" lengthAdjust="spacing">顾佰特电源 : :0755-89700535</text></g>
<g transform="translate(629 355)"><path d="M122 50 L0 0 L-18.2 131 M-24.9 179 L-43 309.5 L290 118.8 L165 67.6" stroke-width="4.6"/><path d="M96 67.8 L17 36 L6.6 112 M-2.3 177 L-14.5 266 L233.8 123.3 L140 85.5" stroke-width="4.6"/><path d="M105 -17 L140 8 L110 26 Z" stroke-width="2.4"/><path d="M-122 229 L-89 252 L-114 267 Z" stroke-width="2.4"/><path d="M-77 252 L-54 266 L-72 279 Z" stroke-width="2.4"/><text transform="translate(-85.5 205) rotate(-30)" font-size="22.5" font-weight="300" fill="#000" stroke="none" textLength="297" lengthAdjust="spacing">顾佰特电源 : :0755-89700535</text></g>
<g transform="translate(90 827)"><path d="M122 50 L0 0 L-18.2 131 M-24.9 179 L-43 309.5 L290 118.8 L165 67.6" stroke-width="4.6"/><path d="M96 67.8 L17 36 L6.6 112 M-2.3 177 L-14.5 266 L233.8 123.3 L140 85.5" stroke-width="4.6"/><path d="M105 -17 L140 8 L110 26 Z" stroke-width="2.4"/><path d="M-122 229 L-89 252 L-114 267 Z" stroke-width="2.4"/><path d="M-77 252 L-54 266 L-72 279 Z" stroke-width="2.4"/><text transform="translate(-85.5 205) rotate(-30)" font-size="22.5" font-weight="300" fill="#000" stroke="none" textLength="297" lengthAdjust="spacing">顾佰特电源 : :0755-89700535</text></g>
<g transform="translate(629 827)"><path d="M122 50 L0 0 L-18.2 131 M-24.9 179 L-43 309.5 L290 118.8 L165 67.6" stroke-width="4.6"/><path d="M96 67.8 L17 36 L6.6 112 M-2.3 177 L-14.5 266 L233.8 123.3 L140 85.5" stroke-width="4.6"/><path d="M105 -17 L140 8 L110 26 Z" stroke-width="2.4"/><path d="M-122 229 L-89 252 L-114 267 Z" stroke-width="2.4"/><path d="M-77 252 L-54 266 L-72 279 Z" stroke-width="2.4"/><text transform="translate(-85.5 205) rotate(-30)" font-size="22.5" font-weight="300" fill="#000" stroke="none" textLength="297" lengthAdjust="spacing">顾佰特电源 : :0755-89700535</text></g>
<g transform="translate(90 1299)"><path d="M122 50 L0 0 L-18.2 131 M-24.9 179 L-43 309.5 L290 118.8 L165 67.6" stroke-width="4.6"/><path d="M96 67.8 L17 36 L6.6 112 M-2.3 177 L-14.5 266 L233.8 123.3 L140 85.5" stroke-width="4.6"/><path d="M105 -17 L140 8 L110 26 Z" stroke-width="2.4"/><path d="M-122 229 L-89 252 L-114 267 Z" stroke-width="2.4"/><path d="M-77 252 L-54 266 L-72 279 Z" stroke-width="2.4"/><text transform="translate(-85.5 205) rotate(-30)" font-size="22.5" font-weight="300" fill="#000" stroke="none" textLength="297" lengthAdjust="spacing">顾佰特电源 : :0755-89700535</text></g>
<g transform="translate(629 1299)"><path d="M122 50 L0 0 L-18.2 131 M-24.9 179 L-43 309.5 L290 118.8 L165 67.6" stroke-width="4.6"/><path d="M96 67.8 L17 36 L6.6 112 M-2.3 177 L-14.5 266 L233.8 123.3 L140 85.5" stroke-width="4.6"/><path d="M105 -17 L140 8 L110 26 Z" stroke-width="2.4"/><path d="M-122 229 L-89 252 L-114 267 Z" stroke-width="2.4"/><path d="M-77 252 L-54 266 L-72 279 Z" stroke-width="2.4"/><text transform="translate(-85.5 205) rotate(-30)" font-size="22.5" font-weight="300" fill="#000" stroke="none" textLength="297" lengthAdjust="spacing">顾佰特电源 : :0755-89700535</text></g>
</g>
</g>
</svg>
</body>
</html>
